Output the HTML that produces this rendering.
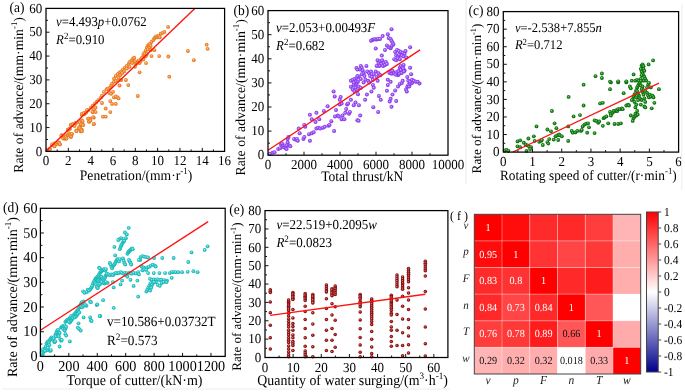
<!DOCTYPE html>
<html><head><meta charset="utf-8"><style>
html,body{margin:0;padding:0;background:#fff;width:685px;height:392px;overflow:hidden}
svg{display:block;font-family:"Liberation Serif", serif;fill:#000;text-rendering:geometricPrecision;will-change:transform}

</style></head><body>
<svg width="685" height="392" viewBox="0 0 685 392">
<g id="scatter">
<defs><radialGradient id="go" cx="0.5" cy="0.5" r="0.5" fx="0.4" fy="0.38"><stop offset="0" stop-color="#fbd3a8"/><stop offset="0.55" stop-color="#f08c38"/><stop offset="1" stop-color="#e07015"/></radialGradient></defs>
<defs><radialGradient id="gp" cx="0.5" cy="0.5" r="0.5" fx="0.4" fy="0.38"><stop offset="0" stop-color="#d9b8ff"/><stop offset="0.55" stop-color="#9a50f5"/><stop offset="1" stop-color="#8030e8"/></radialGradient></defs>
<defs><radialGradient id="gg" cx="0.5" cy="0.5" r="0.5" fx="0.4" fy="0.38"><stop offset="0" stop-color="#90d090"/><stop offset="0.55" stop-color="#158515"/><stop offset="1" stop-color="#066206"/></radialGradient></defs>
<defs><radialGradient id="gc" cx="0.5" cy="0.5" r="0.5" fx="0.4" fy="0.38"><stop offset="0" stop-color="#b8f0f0"/><stop offset="0.55" stop-color="#2cc8c8"/><stop offset="1" stop-color="#14b0b0"/></radialGradient></defs>
<defs><radialGradient id="gm" cx="0.5" cy="0.5" r="0.5" fx="0.4" fy="0.38"><stop offset="0" stop-color="#d89090"/><stop offset="0.55" stop-color="#9a1414"/><stop offset="1" stop-color="#7a0505"/></radialGradient></defs>
<g fill="url(#go)">
<circle cx="47.8" cy="149.8" r="1.9"/>
<circle cx="49.7" cy="148.9" r="1.9"/>
<circle cx="52.4" cy="145.2" r="1.9"/>
<circle cx="54.3" cy="143.4" r="1.9"/>
<circle cx="56.1" cy="144.3" r="1.9"/>
<circle cx="58.9" cy="142.4" r="1.9"/>
<circle cx="59.8" cy="144.3" r="1.9"/>
<circle cx="61.6" cy="135.1" r="1.9"/>
<circle cx="63.4" cy="137.9" r="1.9"/>
<circle cx="64.4" cy="136.0" r="1.9"/>
<circle cx="65.3" cy="138.8" r="1.9"/>
<circle cx="66.2" cy="135.1" r="1.9"/>
<circle cx="68.0" cy="135.1" r="1.9"/>
<circle cx="69.0" cy="133.3" r="1.9"/>
<circle cx="69.9" cy="135.1" r="1.9"/>
<circle cx="70.8" cy="136.9" r="1.9"/>
<circle cx="71.7" cy="134.2" r="1.9"/>
<circle cx="68.0" cy="129.6" r="1.9"/>
<circle cx="69.9" cy="128.7" r="1.9"/>
<circle cx="70.8" cy="125.0" r="1.9"/>
<circle cx="72.6" cy="124.1" r="1.9"/>
<circle cx="74.5" cy="125.0" r="1.9"/>
<circle cx="75.4" cy="123.2" r="1.9"/>
<circle cx="76.3" cy="130.5" r="1.9"/>
<circle cx="79.1" cy="128.7" r="1.9"/>
<circle cx="80.0" cy="126.8" r="1.9"/>
<circle cx="80.9" cy="131.4" r="1.9"/>
<circle cx="81.8" cy="129.6" r="1.9"/>
<circle cx="82.7" cy="124.1" r="1.9"/>
<circle cx="80.0" cy="122.2" r="1.9"/>
<circle cx="81.8" cy="120.4" r="1.9"/>
<circle cx="81.8" cy="114.9" r="1.9"/>
<circle cx="83.7" cy="113.1" r="1.9"/>
<circle cx="84.6" cy="114.0" r="1.9"/>
<circle cx="86.4" cy="112.1" r="1.9"/>
<circle cx="88.2" cy="110.3" r="1.9"/>
<circle cx="88.2" cy="118.6" r="1.9"/>
<circle cx="89.2" cy="121.3" r="1.9"/>
<circle cx="90.1" cy="118.6" r="1.9"/>
<circle cx="93.8" cy="117.7" r="1.9"/>
<circle cx="93.8" cy="124.1" r="1.9"/>
<circle cx="91.0" cy="107.6" r="1.9"/>
<circle cx="92.8" cy="105.7" r="1.9"/>
<circle cx="93.8" cy="109.4" r="1.9"/>
<circle cx="94.7" cy="103.9" r="1.9"/>
<circle cx="95.6" cy="107.6" r="1.9"/>
<circle cx="96.5" cy="102.0" r="1.9"/>
<circle cx="98.3" cy="100.2" r="1.9"/>
<circle cx="92.8" cy="112.1" r="1.9"/>
<circle cx="95.6" cy="112.1" r="1.9"/>
<circle cx="101.1" cy="97.4" r="1.9"/>
<circle cx="102.0" cy="95.6" r="1.9"/>
<circle cx="103.9" cy="91.9" r="1.9"/>
<circle cx="102.0" cy="103.0" r="1.9"/>
<circle cx="105.7" cy="108.5" r="1.9"/>
<circle cx="102.9" cy="116.7" r="1.9"/>
<circle cx="105.7" cy="116.7" r="1.9"/>
<circle cx="110.3" cy="112.1" r="1.9"/>
<circle cx="106.6" cy="89.2" r="1.9"/>
<circle cx="108.4" cy="88.3" r="1.9"/>
<circle cx="110.3" cy="87.3" r="1.9"/>
<circle cx="111.2" cy="85.5" r="1.9"/>
<circle cx="112.1" cy="83.7" r="1.9"/>
<circle cx="114.0" cy="81.8" r="1.9"/>
<circle cx="115.8" cy="80.9" r="1.9"/>
<circle cx="118.6" cy="80.0" r="1.9"/>
<circle cx="121.3" cy="80.0" r="1.9"/>
<circle cx="109.4" cy="92.9" r="1.9"/>
<circle cx="111.2" cy="93.8" r="1.9"/>
<circle cx="113.0" cy="91.9" r="1.9"/>
<circle cx="114.0" cy="97.4" r="1.9"/>
<circle cx="115.8" cy="96.5" r="1.9"/>
<circle cx="117.6" cy="97.4" r="1.9"/>
<circle cx="118.6" cy="98.4" r="1.9"/>
<circle cx="110.3" cy="101.1" r="1.9"/>
<circle cx="112.1" cy="103.9" r="1.9"/>
<circle cx="115.8" cy="103.9" r="1.9"/>
<circle cx="119.5" cy="85.5" r="1.9"/>
<circle cx="125.9" cy="80.0" r="1.9"/>
<circle cx="128.3" cy="85.1" r="1.9"/>
<circle cx="135.0" cy="61.3" r="1.9"/>
<circle cx="135.9" cy="64.0" r="1.9"/>
<circle cx="136.8" cy="63.1" r="1.9"/>
<circle cx="135.0" cy="66.8" r="1.9"/>
<circle cx="137.8" cy="62.2" r="1.9"/>
<circle cx="138.7" cy="60.3" r="1.9"/>
<circle cx="139.6" cy="63.1" r="1.9"/>
<circle cx="140.5" cy="61.3" r="1.9"/>
<circle cx="141.4" cy="58.5" r="1.9"/>
<circle cx="142.3" cy="57.6" r="1.9"/>
<circle cx="143.3" cy="54.8" r="1.9"/>
<circle cx="144.2" cy="53.0" r="1.9"/>
<circle cx="145.1" cy="53.9" r="1.9"/>
<circle cx="143.3" cy="59.4" r="1.9"/>
<circle cx="145.1" cy="56.7" r="1.9"/>
<circle cx="146.0" cy="55.8" r="1.9"/>
<circle cx="146.9" cy="53.9" r="1.9"/>
<circle cx="146.0" cy="50.2" r="1.9"/>
<circle cx="146.9" cy="47.5" r="1.9"/>
<circle cx="147.9" cy="45.7" r="1.9"/>
<circle cx="148.8" cy="44.7" r="1.9"/>
<circle cx="149.7" cy="43.8" r="1.9"/>
<circle cx="147.9" cy="49.3" r="1.9"/>
<circle cx="149.7" cy="47.5" r="1.9"/>
<circle cx="150.6" cy="45.7" r="1.9"/>
<circle cx="151.5" cy="42.0" r="1.9"/>
<circle cx="150.6" cy="50.2" r="1.9"/>
<circle cx="153.4" cy="40.1" r="1.9"/>
<circle cx="154.3" cy="38.3" r="1.9"/>
<circle cx="155.2" cy="37.4" r="1.9"/>
<circle cx="156.1" cy="36.5" r="1.9"/>
<circle cx="157.0" cy="37.4" r="1.9"/>
<circle cx="158.0" cy="36.5" r="1.9"/>
<circle cx="158.9" cy="35.6" r="1.9"/>
<circle cx="159.8" cy="37.4" r="1.9"/>
<circle cx="160.7" cy="33.7" r="1.9"/>
<circle cx="162.6" cy="32.8" r="1.9"/>
<circle cx="164.4" cy="31.9" r="1.9"/>
<circle cx="168.1" cy="26.9" r="1.9"/>
<circle cx="139.6" cy="72.3" r="1.9"/>
<circle cx="146.0" cy="63.1" r="1.9"/>
<circle cx="151.5" cy="56.1" r="1.9"/>
<circle cx="154.3" cy="50.2" r="1.9"/>
<circle cx="159.2" cy="56.1" r="1.9"/>
<circle cx="168.4" cy="56.5" r="1.9"/>
<circle cx="169.3" cy="76.7" r="1.9"/>
<circle cx="187.9" cy="51.0" r="1.9"/>
<circle cx="193.8" cy="60.2" r="1.9"/>
<circle cx="206.6" cy="44.7" r="1.9"/>
<circle cx="207.6" cy="48.8" r="1.9"/>
<circle cx="137.8" cy="96.0" r="1.9"/>
<circle cx="114.0" cy="78.7" r="1.9"/>
<circle cx="115.8" cy="76.0" r="1.9"/>
<circle cx="117.6" cy="74.1" r="1.9"/>
<circle cx="119.5" cy="72.3" r="1.9"/>
<circle cx="121.3" cy="71.4" r="1.9"/>
<circle cx="123.1" cy="69.5" r="1.9"/>
<circle cx="125.0" cy="67.7" r="1.9"/>
<circle cx="126.8" cy="65.9" r="1.9"/>
<circle cx="128.7" cy="64.0" r="1.9"/>
<circle cx="129.6" cy="62.2" r="1.9"/>
<circle cx="131.4" cy="60.3" r="1.9"/>
<circle cx="133.2" cy="58.5" r="1.9"/>
<circle cx="134.2" cy="57.6" r="1.9"/>
<circle cx="135.1" cy="61.3" r="1.9"/>
<circle cx="132.3" cy="63.1" r="1.9"/>
<circle cx="129.6" cy="66.8" r="1.9"/>
<circle cx="126.8" cy="68.6" r="1.9"/>
<circle cx="124.1" cy="71.4" r="1.9"/>
<circle cx="120.4" cy="75.0" r="1.9"/>
<circle cx="118.6" cy="77.8" r="1.9"/>
<circle cx="122.2" cy="73.2" r="1.9"/>
<circle cx="48.0" cy="149.7" r="1.9"/>
<circle cx="50.0" cy="149.1" r="1.9"/>
<circle cx="52.0" cy="144.4" r="1.9"/>
<circle cx="54.0" cy="145.8" r="1.9"/>
<circle cx="54.6" cy="146.4" r="1.9"/>
<circle cx="57.9" cy="142.4" r="1.9"/>
<circle cx="59.3" cy="143.1" r="1.9"/>
<circle cx="59.9" cy="144.4" r="1.9"/>
<circle cx="61.3" cy="135.8" r="1.9"/>
<circle cx="63.2" cy="138.5" r="1.9"/>
<circle cx="64.6" cy="137.8" r="1.9"/>
<circle cx="65.9" cy="137.1" r="1.9"/>
<circle cx="66.6" cy="138.5" r="1.9"/>
<circle cx="67.9" cy="129.8" r="1.9"/>
<circle cx="69.2" cy="129.2" r="1.9"/>
<circle cx="69.9" cy="134.5" r="1.9"/>
<circle cx="70.5" cy="135.8" r="1.9"/>
<circle cx="71.2" cy="136.5" r="1.9"/>
<circle cx="71.9" cy="133.8" r="1.9"/>
<circle cx="71.2" cy="125.2" r="1.9"/>
<circle cx="72.5" cy="124.5" r="1.9"/>
<circle cx="74.5" cy="125.9" r="1.9"/>
<circle cx="75.8" cy="123.2" r="1.9"/>
<circle cx="76.5" cy="131.2" r="1.9"/>
<circle cx="79.2" cy="127.2" r="1.9"/>
<circle cx="79.8" cy="128.5" r="1.9"/>
<circle cx="81.2" cy="129.8" r="1.9"/>
<circle cx="81.8" cy="131.2" r="1.9"/>
<circle cx="79.8" cy="122.6" r="1.9"/>
<circle cx="81.2" cy="124.5" r="1.9"/>
<circle cx="82.5" cy="121.2" r="1.9"/>
<circle cx="83.1" cy="125.2" r="1.9"/>
<circle cx="81.8" cy="113.9" r="1.9"/>
<circle cx="83.8" cy="113.3" r="1.9"/>
<circle cx="85.8" cy="112.6" r="1.9"/>
<circle cx="87.1" cy="109.9" r="1.9"/>
<circle cx="88.4" cy="118.6" r="1.9"/>
<circle cx="89.1" cy="121.9" r="1.9"/>
<circle cx="90.4" cy="120.6" r="1.9"/>
<circle cx="92.4" cy="111.9" r="1.9"/>
<circle cx="93.1" cy="117.2" r="1.9"/>
<circle cx="93.8" cy="123.9" r="1.9"/>
</g>
<g fill="url(#gg)">
<circle cx="504.8" cy="150.5" r="1.9"/>
<circle cx="506.6" cy="149.9" r="1.9"/>
<circle cx="508.4" cy="150.8" r="1.9"/>
<circle cx="517.5" cy="141.4" r="1.9"/>
<circle cx="520.2" cy="140.3" r="1.9"/>
<circle cx="517.5" cy="146.3" r="1.9"/>
<circle cx="520.2" cy="147.2" r="1.9"/>
<circle cx="523.8" cy="142.7" r="1.9"/>
<circle cx="525.6" cy="144.5" r="1.9"/>
<circle cx="527.5" cy="145.4" r="1.9"/>
<circle cx="528.4" cy="138.5" r="1.9"/>
<circle cx="529.3" cy="146.8" r="1.9"/>
<circle cx="531.1" cy="147.2" r="1.9"/>
<circle cx="526.5" cy="150.8" r="1.9"/>
<circle cx="530.2" cy="149.0" r="1.9"/>
<circle cx="533.8" cy="136.3" r="1.9"/>
<circle cx="534.7" cy="140.9" r="1.9"/>
<circle cx="536.5" cy="126.4" r="1.9"/>
<circle cx="539.2" cy="141.8" r="1.9"/>
<circle cx="541.0" cy="140.9" r="1.9"/>
<circle cx="541.9" cy="140.0" r="1.9"/>
<circle cx="542.8" cy="145.0" r="1.9"/>
<circle cx="547.4" cy="129.5" r="1.9"/>
<circle cx="547.4" cy="142.1" r="1.9"/>
<circle cx="548.3" cy="143.6" r="1.9"/>
<circle cx="549.2" cy="139.1" r="1.9"/>
<circle cx="551.0" cy="131.3" r="1.9"/>
<circle cx="551.9" cy="111.0" r="1.9"/>
<circle cx="553.7" cy="139.6" r="1.9"/>
<circle cx="554.6" cy="123.3" r="1.9"/>
<circle cx="555.5" cy="136.3" r="1.9"/>
<circle cx="556.4" cy="128.2" r="1.9"/>
<circle cx="557.3" cy="135.4" r="1.9"/>
<circle cx="558.2" cy="140.0" r="1.9"/>
<circle cx="559.1" cy="134.5" r="1.9"/>
<circle cx="560.1" cy="135.4" r="1.9"/>
<circle cx="561.9" cy="136.3" r="1.9"/>
<circle cx="568.2" cy="140.9" r="1.9"/>
<circle cx="568.6" cy="96.9" r="1.9"/>
<circle cx="568.2" cy="126.4" r="1.9"/>
<circle cx="571.8" cy="130.9" r="1.9"/>
<circle cx="572.7" cy="132.7" r="1.9"/>
<circle cx="573.6" cy="116.4" r="1.9"/>
<circle cx="575.4" cy="132.4" r="1.9"/>
<circle cx="577.3" cy="130.9" r="1.9"/>
<circle cx="580.0" cy="115.1" r="1.9"/>
<circle cx="580.9" cy="130.9" r="1.9"/>
<circle cx="581.8" cy="130.0" r="1.9"/>
<circle cx="583.6" cy="105.5" r="1.9"/>
<circle cx="583.6" cy="84.7" r="1.9"/>
<circle cx="582.7" cy="126.4" r="1.9"/>
<circle cx="584.5" cy="124.6" r="1.9"/>
<circle cx="586.3" cy="123.7" r="1.9"/>
<circle cx="587.2" cy="132.7" r="1.9"/>
<circle cx="588.1" cy="123.3" r="1.9"/>
<circle cx="589.0" cy="127.3" r="1.9"/>
<circle cx="594.6" cy="133.1" r="1.9"/>
<circle cx="594.6" cy="120.4" r="1.9"/>
<circle cx="596.4" cy="120.9" r="1.9"/>
<circle cx="598.2" cy="122.8" r="1.9"/>
<circle cx="599.2" cy="121.5" r="1.9"/>
<circle cx="600.1" cy="103.4" r="1.9"/>
<circle cx="602.8" cy="125.8" r="1.9"/>
<circle cx="602.8" cy="102.8" r="1.9"/>
<circle cx="603.7" cy="118.2" r="1.9"/>
<circle cx="604.6" cy="117.3" r="1.9"/>
<circle cx="606.4" cy="116.4" r="1.9"/>
<circle cx="608.2" cy="123.3" r="1.9"/>
<circle cx="610.0" cy="111.9" r="1.9"/>
<circle cx="610.9" cy="113.7" r="1.9"/>
<circle cx="610.9" cy="115.5" r="1.9"/>
<circle cx="612.7" cy="112.8" r="1.9"/>
<circle cx="613.6" cy="111.0" r="1.9"/>
<circle cx="614.5" cy="124.0" r="1.9"/>
<circle cx="615.5" cy="111.0" r="1.9"/>
<circle cx="616.4" cy="110.1" r="1.9"/>
<circle cx="617.3" cy="111.0" r="1.9"/>
<circle cx="618.2" cy="109.2" r="1.9"/>
<circle cx="618.2" cy="124.0" r="1.9"/>
<circle cx="620.0" cy="109.2" r="1.9"/>
<circle cx="620.9" cy="123.3" r="1.9"/>
<circle cx="621.8" cy="108.3" r="1.9"/>
<circle cx="622.7" cy="109.2" r="1.9"/>
<circle cx="623.6" cy="93.2" r="1.9"/>
<circle cx="626.3" cy="105.5" r="1.9"/>
<circle cx="628.1" cy="104.6" r="1.9"/>
<circle cx="629.0" cy="105.5" r="1.9"/>
<circle cx="610.0" cy="89.2" r="1.9"/>
<circle cx="610.9" cy="82.4" r="1.9"/>
<circle cx="618.2" cy="82.4" r="1.9"/>
<circle cx="626.3" cy="82.4" r="1.9"/>
<circle cx="629.9" cy="86.5" r="1.9"/>
<circle cx="630.8" cy="88.3" r="1.9"/>
<circle cx="630.8" cy="115.5" r="1.9"/>
<circle cx="632.7" cy="120.9" r="1.9"/>
<circle cx="633.6" cy="118.2" r="1.9"/>
<circle cx="634.5" cy="116.4" r="1.9"/>
<circle cx="635.4" cy="113.7" r="1.9"/>
<circle cx="636.3" cy="115.5" r="1.9"/>
<circle cx="637.2" cy="111.0" r="1.9"/>
<circle cx="637.7" cy="114.6" r="1.9"/>
<circle cx="635.4" cy="107.4" r="1.9"/>
<circle cx="636.3" cy="104.6" r="1.9"/>
<circle cx="634.5" cy="101.9" r="1.9"/>
<circle cx="632.7" cy="99.2" r="1.9"/>
<circle cx="631.8" cy="100.1" r="1.9"/>
<circle cx="633.6" cy="96.5" r="1.9"/>
<circle cx="634.5" cy="94.7" r="1.9"/>
<circle cx="635.4" cy="92.9" r="1.9"/>
<circle cx="636.3" cy="90.2" r="1.9"/>
<circle cx="637.2" cy="87.4" r="1.9"/>
<circle cx="638.1" cy="85.6" r="1.9"/>
<circle cx="639.0" cy="83.8" r="1.9"/>
<circle cx="639.9" cy="82.9" r="1.9"/>
<circle cx="640.8" cy="85.6" r="1.9"/>
<circle cx="641.7" cy="89.2" r="1.9"/>
<circle cx="642.6" cy="92.0" r="1.9"/>
<circle cx="643.5" cy="94.7" r="1.9"/>
<circle cx="644.4" cy="98.3" r="1.9"/>
<circle cx="645.3" cy="101.9" r="1.9"/>
<circle cx="644.4" cy="106.5" r="1.9"/>
<circle cx="645.3" cy="107.4" r="1.9"/>
<circle cx="640.8" cy="104.6" r="1.9"/>
<circle cx="641.7" cy="100.1" r="1.9"/>
<circle cx="639.9" cy="98.3" r="1.9"/>
<circle cx="639.0" cy="95.6" r="1.9"/>
<circle cx="638.1" cy="93.8" r="1.9"/>
<circle cx="637.2" cy="91.1" r="1.9"/>
<circle cx="636.3" cy="97.4" r="1.9"/>
<circle cx="638.1" cy="100.1" r="1.9"/>
<circle cx="647.1" cy="92.9" r="1.9"/>
<circle cx="648.1" cy="95.6" r="1.9"/>
<circle cx="649.0" cy="97.4" r="1.9"/>
<circle cx="649.9" cy="94.7" r="1.9"/>
<circle cx="650.8" cy="96.5" r="1.9"/>
<circle cx="652.6" cy="95.6" r="1.9"/>
<circle cx="653.5" cy="97.4" r="1.9"/>
<circle cx="651.7" cy="108.3" r="1.9"/>
<circle cx="654.4" cy="102.8" r="1.9"/>
<circle cx="658.9" cy="89.2" r="1.9"/>
<circle cx="648.1" cy="84.7" r="1.9"/>
<circle cx="649.0" cy="82.9" r="1.9"/>
<circle cx="650.8" cy="87.4" r="1.9"/>
<circle cx="647.1" cy="87.4" r="1.9"/>
<circle cx="642.6" cy="86.5" r="1.9"/>
<circle cx="643.5" cy="90.2" r="1.9"/>
<circle cx="645.3" cy="91.1" r="1.9"/>
<circle cx="595.5" cy="76.2" r="1.9"/>
<circle cx="601.9" cy="73.5" r="1.9"/>
<circle cx="601.9" cy="78.0" r="1.9"/>
<circle cx="610.0" cy="81.6" r="1.9"/>
<circle cx="618.2" cy="81.3" r="1.9"/>
<circle cx="626.3" cy="81.3" r="1.9"/>
<circle cx="631.8" cy="80.7" r="1.9"/>
<circle cx="633.6" cy="74.4" r="1.9"/>
<circle cx="635.4" cy="80.7" r="1.9"/>
<circle cx="637.2" cy="79.8" r="1.9"/>
<circle cx="639.0" cy="80.7" r="1.9"/>
<circle cx="640.8" cy="78.9" r="1.9"/>
<circle cx="641.7" cy="65.3" r="1.9"/>
<circle cx="642.6" cy="67.1" r="1.9"/>
<circle cx="643.5" cy="69.0" r="1.9"/>
<circle cx="640.8" cy="69.0" r="1.9"/>
<circle cx="641.7" cy="71.7" r="1.9"/>
<circle cx="642.6" cy="73.5" r="1.9"/>
<circle cx="643.5" cy="75.3" r="1.9"/>
<circle cx="644.4" cy="77.1" r="1.9"/>
<circle cx="645.3" cy="78.9" r="1.9"/>
<circle cx="646.2" cy="80.7" r="1.9"/>
<circle cx="644.4" cy="70.8" r="1.9"/>
<circle cx="642.6" cy="64.4" r="1.9"/>
<circle cx="643.5" cy="66.2" r="1.9"/>
<circle cx="648.6" cy="64.4" r="1.9"/>
<circle cx="653.1" cy="60.4" r="1.9"/>
<circle cx="641.7" cy="75.3" r="1.9"/>
<circle cx="643.5" cy="80.7" r="1.9"/>
<circle cx="640.8" cy="80.7" r="1.9"/>
</g>
<g fill="url(#gc)">
<circle cx="100.3" cy="316.1" r="1.9"/>
<circle cx="113.7" cy="307.8" r="1.9"/>
<circle cx="103.1" cy="300.2" r="1.9"/>
<circle cx="128.7" cy="227.8" r="1.9"/>
<circle cx="124.9" cy="232.5" r="1.9"/>
<circle cx="126.8" cy="234.4" r="1.9"/>
<circle cx="125.9" cy="238.2" r="1.9"/>
<circle cx="124.0" cy="239.1" r="1.9"/>
<circle cx="121.2" cy="238.2" r="1.9"/>
<circle cx="119.3" cy="239.1" r="1.9"/>
<circle cx="140.6" cy="257.1" r="1.9"/>
<circle cx="142.4" cy="256.1" r="1.9"/>
<circle cx="144.3" cy="256.7" r="1.9"/>
<circle cx="146.2" cy="257.1" r="1.9"/>
<circle cx="148.1" cy="257.5" r="1.9"/>
<circle cx="140.2" cy="259.9" r="1.9"/>
<circle cx="154.1" cy="258.0" r="1.9"/>
<circle cx="162.3" cy="258.0" r="1.9"/>
<circle cx="173.6" cy="258.0" r="1.9"/>
<circle cx="191.5" cy="252.4" r="1.9"/>
<circle cx="204.7" cy="249.9" r="1.9"/>
<circle cx="207.6" cy="246.3" r="1.9"/>
<circle cx="188.3" cy="262.0" r="1.9"/>
<circle cx="141.5" cy="266.5" r="1.9"/>
<circle cx="143.4" cy="267.5" r="1.9"/>
<circle cx="145.3" cy="268.4" r="1.9"/>
<circle cx="147.2" cy="267.5" r="1.9"/>
<circle cx="149.0" cy="266.9" r="1.9"/>
<circle cx="150.9" cy="265.6" r="1.9"/>
<circle cx="152.8" cy="264.6" r="1.9"/>
<circle cx="154.7" cy="265.6" r="1.9"/>
<circle cx="155.7" cy="266.5" r="1.9"/>
<circle cx="142.4" cy="270.3" r="1.9"/>
<circle cx="144.3" cy="269.4" r="1.9"/>
<circle cx="146.2" cy="269.9" r="1.9"/>
<circle cx="148.1" cy="273.1" r="1.9"/>
<circle cx="153.8" cy="273.1" r="1.9"/>
<circle cx="159.4" cy="273.1" r="1.9"/>
<circle cx="165.1" cy="273.1" r="1.9"/>
<circle cx="169.8" cy="273.1" r="1.9"/>
<circle cx="171.7" cy="272.2" r="1.9"/>
<circle cx="173.6" cy="272.2" r="1.9"/>
<circle cx="175.5" cy="272.2" r="1.9"/>
<circle cx="178.3" cy="272.2" r="1.9"/>
<circle cx="182.1" cy="272.2" r="1.9"/>
<circle cx="187.7" cy="271.8" r="1.9"/>
<circle cx="193.4" cy="271.2" r="1.9"/>
<circle cx="197.6" cy="272.2" r="1.9"/>
<circle cx="171.7" cy="277.8" r="1.9"/>
<circle cx="150.0" cy="278.8" r="1.9"/>
<circle cx="151.9" cy="279.7" r="1.9"/>
<circle cx="153.8" cy="279.4" r="1.9"/>
<circle cx="155.7" cy="279.7" r="1.9"/>
<circle cx="157.5" cy="279.4" r="1.9"/>
<circle cx="159.4" cy="280.1" r="1.9"/>
<circle cx="161.3" cy="279.7" r="1.9"/>
<circle cx="164.1" cy="280.1" r="1.9"/>
<circle cx="167.0" cy="280.7" r="1.9"/>
<circle cx="146.4" cy="291.6" r="1.9"/>
<circle cx="147.3" cy="289.7" r="1.9"/>
<circle cx="148.3" cy="287.7" r="1.9"/>
<circle cx="149.3" cy="285.8" r="1.9"/>
<circle cx="150.2" cy="283.9" r="1.9"/>
<circle cx="151.2" cy="283.0" r="1.9"/>
<circle cx="150.2" cy="290.6" r="1.9"/>
<circle cx="152.1" cy="284.9" r="1.9"/>
<circle cx="153.1" cy="283.0" r="1.9"/>
<circle cx="157.9" cy="284.9" r="1.9"/>
<circle cx="159.8" cy="285.8" r="1.9"/>
<circle cx="161.7" cy="283.0" r="1.9"/>
<circle cx="163.6" cy="282.0" r="1.9"/>
<circle cx="166.5" cy="282.0" r="1.9"/>
<circle cx="156.0" cy="282.0" r="1.9"/>
<circle cx="154.0" cy="282.0" r="1.9"/>
<circle cx="151.2" cy="287.7" r="1.9"/>
<circle cx="42.2" cy="355.3" r="1.9"/>
<circle cx="42.9" cy="353.8" r="1.9"/>
<circle cx="41.5" cy="353.1" r="1.9"/>
<circle cx="43.6" cy="351.6" r="1.9"/>
<circle cx="44.4" cy="350.2" r="1.9"/>
<circle cx="42.9" cy="349.4" r="1.9"/>
<circle cx="45.1" cy="348.0" r="1.9"/>
<circle cx="45.8" cy="346.5" r="1.9"/>
<circle cx="46.5" cy="348.7" r="1.9"/>
<circle cx="47.3" cy="350.2" r="1.9"/>
<circle cx="48.0" cy="348.0" r="1.9"/>
<circle cx="45.1" cy="350.9" r="1.9"/>
<circle cx="46.5" cy="343.6" r="1.9"/>
<circle cx="47.3" cy="342.2" r="1.9"/>
<circle cx="48.0" cy="341.4" r="1.9"/>
<circle cx="48.7" cy="342.9" r="1.9"/>
<circle cx="49.5" cy="340.7" r="1.9"/>
<circle cx="50.2" cy="339.3" r="1.9"/>
<circle cx="50.9" cy="338.1" r="1.9"/>
<circle cx="51.6" cy="337.5" r="1.9"/>
<circle cx="52.4" cy="339.0" r="1.9"/>
<circle cx="53.1" cy="340.0" r="1.9"/>
<circle cx="53.8" cy="338.5" r="1.9"/>
<circle cx="54.5" cy="342.2" r="1.9"/>
<circle cx="55.3" cy="341.4" r="1.9"/>
<circle cx="49.5" cy="345.1" r="1.9"/>
<circle cx="50.2" cy="350.9" r="1.9"/>
<circle cx="50.9" cy="350.2" r="1.9"/>
<circle cx="55.3" cy="334.9" r="1.9"/>
<circle cx="56.0" cy="333.4" r="1.9"/>
<circle cx="56.7" cy="332.0" r="1.9"/>
<circle cx="57.4" cy="330.5" r="1.9"/>
<circle cx="58.2" cy="329.8" r="1.9"/>
<circle cx="56.0" cy="336.4" r="1.9"/>
<circle cx="58.2" cy="334.9" r="1.9"/>
<circle cx="58.9" cy="333.4" r="1.9"/>
<circle cx="59.6" cy="332.7" r="1.9"/>
<circle cx="58.9" cy="336.4" r="1.9"/>
<circle cx="60.4" cy="339.3" r="1.9"/>
<circle cx="61.1" cy="340.7" r="1.9"/>
<circle cx="61.8" cy="340.0" r="1.9"/>
<circle cx="59.6" cy="346.5" r="1.9"/>
<circle cx="61.1" cy="327.6" r="1.9"/>
<circle cx="61.8" cy="326.9" r="1.9"/>
<circle cx="62.5" cy="326.2" r="1.9"/>
<circle cx="63.3" cy="327.6" r="1.9"/>
<circle cx="64.0" cy="326.2" r="1.9"/>
<circle cx="64.7" cy="325.4" r="1.9"/>
<circle cx="63.3" cy="329.1" r="1.9"/>
<circle cx="64.7" cy="330.5" r="1.9"/>
<circle cx="65.4" cy="328.4" r="1.9"/>
<circle cx="66.2" cy="326.9" r="1.9"/>
<circle cx="65.4" cy="321.8" r="1.9"/>
<circle cx="66.2" cy="321.1" r="1.9"/>
<circle cx="66.9" cy="320.4" r="1.9"/>
<circle cx="67.6" cy="319.6" r="1.9"/>
<circle cx="68.4" cy="320.4" r="1.9"/>
<circle cx="69.1" cy="318.9" r="1.9"/>
<circle cx="69.8" cy="318.2" r="1.9"/>
<circle cx="70.5" cy="317.4" r="1.9"/>
<circle cx="71.3" cy="316.0" r="1.9"/>
<circle cx="70.5" cy="321.1" r="1.9"/>
<circle cx="69.8" cy="322.5" r="1.9"/>
<circle cx="69.1" cy="321.8" r="1.9"/>
<circle cx="71.3" cy="320.4" r="1.9"/>
<circle cx="72.0" cy="318.9" r="1.9"/>
<circle cx="72.7" cy="318.2" r="1.9"/>
<circle cx="73.4" cy="316.0" r="1.9"/>
<circle cx="74.2" cy="314.5" r="1.9"/>
<circle cx="74.9" cy="313.8" r="1.9"/>
<circle cx="75.6" cy="313.1" r="1.9"/>
<circle cx="76.4" cy="311.6" r="1.9"/>
<circle cx="77.1" cy="310.9" r="1.9"/>
<circle cx="77.8" cy="310.2" r="1.9"/>
<circle cx="78.5" cy="308.7" r="1.9"/>
<circle cx="79.3" cy="307.3" r="1.9"/>
<circle cx="80.0" cy="305.8" r="1.9"/>
<circle cx="80.7" cy="304.4" r="1.9"/>
<circle cx="81.4" cy="302.9" r="1.9"/>
<circle cx="82.2" cy="302.2" r="1.9"/>
<circle cx="83.6" cy="301.5" r="1.9"/>
<circle cx="74.9" cy="317.4" r="1.9"/>
<circle cx="76.4" cy="316.0" r="1.9"/>
<circle cx="77.1" cy="314.5" r="1.9"/>
<circle cx="77.8" cy="313.8" r="1.9"/>
<circle cx="79.3" cy="312.4" r="1.9"/>
<circle cx="65.4" cy="334.2" r="1.9"/>
<circle cx="66.2" cy="335.6" r="1.9"/>
<circle cx="69.8" cy="341.4" r="1.9"/>
<circle cx="78.5" cy="323.3" r="1.9"/>
<circle cx="77.8" cy="327.6" r="1.9"/>
<circle cx="79.3" cy="329.1" r="1.9"/>
<circle cx="80.7" cy="330.5" r="1.9"/>
<circle cx="83.6" cy="317.4" r="1.9"/>
<circle cx="86.5" cy="305.8" r="1.9"/>
<circle cx="90.2" cy="317.4" r="1.9"/>
<circle cx="90.9" cy="320.4" r="1.9"/>
<circle cx="91.6" cy="321.1" r="1.9"/>
<circle cx="90.2" cy="301.5" r="1.9"/>
<circle cx="90.9" cy="302.2" r="1.9"/>
<circle cx="96.7" cy="305.1" r="1.9"/>
<circle cx="97.4" cy="304.4" r="1.9"/>
<circle cx="99.6" cy="316.0" r="1.9"/>
<circle cx="80.7" cy="306.5" r="1.9"/>
<circle cx="82.2" cy="307.3" r="1.9"/>
<circle cx="83.6" cy="305.8" r="1.9"/>
<circle cx="85.1" cy="304.4" r="1.9"/>
<circle cx="83.1" cy="291.3" r="1.9"/>
<circle cx="84.6" cy="292.8" r="1.9"/>
<circle cx="86.9" cy="292.0" r="1.9"/>
<circle cx="87.7" cy="289.7" r="1.9"/>
<circle cx="89.2" cy="290.5" r="1.9"/>
<circle cx="90.7" cy="289.0" r="1.9"/>
<circle cx="91.5" cy="287.4" r="1.9"/>
<circle cx="92.2" cy="285.9" r="1.9"/>
<circle cx="93.0" cy="283.6" r="1.9"/>
<circle cx="93.8" cy="282.1" r="1.9"/>
<circle cx="94.5" cy="280.6" r="1.9"/>
<circle cx="95.3" cy="279.0" r="1.9"/>
<circle cx="96.1" cy="278.3" r="1.9"/>
<circle cx="96.8" cy="277.5" r="1.9"/>
<circle cx="97.6" cy="276.7" r="1.9"/>
<circle cx="98.4" cy="276.0" r="1.9"/>
<circle cx="99.1" cy="274.4" r="1.9"/>
<circle cx="99.9" cy="272.9" r="1.9"/>
<circle cx="100.7" cy="272.1" r="1.9"/>
<circle cx="101.4" cy="271.4" r="1.9"/>
<circle cx="102.2" cy="270.6" r="1.9"/>
<circle cx="103.0" cy="269.8" r="1.9"/>
<circle cx="103.7" cy="269.1" r="1.9"/>
<circle cx="104.5" cy="269.8" r="1.9"/>
<circle cx="105.3" cy="270.6" r="1.9"/>
<circle cx="106.0" cy="269.1" r="1.9"/>
<circle cx="95.3" cy="282.9" r="1.9"/>
<circle cx="96.1" cy="284.4" r="1.9"/>
<circle cx="96.8" cy="281.3" r="1.9"/>
<circle cx="97.6" cy="280.6" r="1.9"/>
<circle cx="98.4" cy="281.3" r="1.9"/>
<circle cx="99.1" cy="279.8" r="1.9"/>
<circle cx="99.9" cy="278.3" r="1.9"/>
<circle cx="100.7" cy="277.5" r="1.9"/>
<circle cx="101.4" cy="276.7" r="1.9"/>
<circle cx="102.2" cy="278.3" r="1.9"/>
<circle cx="103.0" cy="279.0" r="1.9"/>
<circle cx="103.7" cy="279.8" r="1.9"/>
<circle cx="104.5" cy="278.3" r="1.9"/>
<circle cx="105.3" cy="276.7" r="1.9"/>
<circle cx="106.0" cy="275.2" r="1.9"/>
<circle cx="106.8" cy="274.4" r="1.9"/>
<circle cx="107.6" cy="282.9" r="1.9"/>
<circle cx="106.0" cy="282.1" r="1.9"/>
<circle cx="104.5" cy="283.6" r="1.9"/>
<circle cx="103.0" cy="282.9" r="1.9"/>
<circle cx="101.4" cy="282.1" r="1.9"/>
<circle cx="99.9" cy="284.4" r="1.9"/>
<circle cx="98.4" cy="285.9" r="1.9"/>
<circle cx="96.8" cy="286.7" r="1.9"/>
<circle cx="97.6" cy="288.2" r="1.9"/>
<circle cx="99.1" cy="267.6" r="1.9"/>
<circle cx="99.9" cy="268.3" r="1.9"/>
<circle cx="106.8" cy="273.7" r="1.9"/>
<circle cx="108.3" cy="274.4" r="1.9"/>
<circle cx="109.8" cy="275.2" r="1.9"/>
<circle cx="111.4" cy="274.4" r="1.9"/>
<circle cx="112.9" cy="275.2" r="1.9"/>
<circle cx="114.4" cy="273.7" r="1.9"/>
<circle cx="116.0" cy="272.9" r="1.9"/>
<circle cx="117.5" cy="273.4" r="1.9"/>
<circle cx="119.0" cy="272.9" r="1.9"/>
<circle cx="120.6" cy="272.1" r="1.9"/>
<circle cx="122.1" cy="272.9" r="1.9"/>
<circle cx="123.6" cy="273.7" r="1.9"/>
<circle cx="125.2" cy="272.9" r="1.9"/>
<circle cx="126.7" cy="273.4" r="1.9"/>
<circle cx="129.0" cy="272.9" r="1.9"/>
<circle cx="131.3" cy="273.7" r="1.9"/>
<circle cx="133.6" cy="272.9" r="1.9"/>
<circle cx="135.9" cy="273.4" r="1.9"/>
<circle cx="138.2" cy="272.1" r="1.9"/>
<circle cx="138.9" cy="274.4" r="1.9"/>
<circle cx="109.8" cy="263.0" r="1.9"/>
<circle cx="110.6" cy="264.5" r="1.9"/>
<circle cx="111.4" cy="266.8" r="1.9"/>
<circle cx="112.1" cy="268.3" r="1.9"/>
<circle cx="112.9" cy="266.0" r="1.9"/>
<circle cx="113.7" cy="265.3" r="1.9"/>
<circle cx="114.4" cy="264.5" r="1.9"/>
<circle cx="115.2" cy="263.0" r="1.9"/>
<circle cx="116.0" cy="261.4" r="1.9"/>
<circle cx="116.7" cy="259.9" r="1.9"/>
<circle cx="117.5" cy="259.1" r="1.9"/>
<circle cx="118.3" cy="259.9" r="1.9"/>
<circle cx="119.0" cy="261.4" r="1.9"/>
<circle cx="119.8" cy="259.1" r="1.9"/>
<circle cx="122.9" cy="258.4" r="1.9"/>
<circle cx="123.6" cy="260.7" r="1.9"/>
<circle cx="124.4" cy="263.0" r="1.9"/>
<circle cx="125.2" cy="264.5" r="1.9"/>
<circle cx="129.0" cy="259.9" r="1.9"/>
<circle cx="129.7" cy="261.4" r="1.9"/>
<circle cx="130.5" cy="263.0" r="1.9"/>
<circle cx="131.3" cy="264.5" r="1.9"/>
<circle cx="115.2" cy="255.3" r="1.9"/>
<circle cx="114.4" cy="246.9" r="1.9"/>
<circle cx="119.8" cy="249.2" r="1.9"/>
<circle cx="120.6" cy="246.9" r="1.9"/>
<circle cx="121.3" cy="245.4" r="1.9"/>
<circle cx="122.1" cy="243.8" r="1.9"/>
<circle cx="122.9" cy="242.3" r="1.9"/>
<circle cx="123.6" cy="241.5" r="1.9"/>
<circle cx="124.4" cy="240.8" r="1.9"/>
<circle cx="118.3" cy="240.0" r="1.9"/>
<circle cx="127.4" cy="253.8" r="1.9"/>
<circle cx="128.2" cy="252.2" r="1.9"/>
<circle cx="129.0" cy="251.5" r="1.9"/>
<circle cx="129.7" cy="250.7" r="1.9"/>
<circle cx="130.5" cy="249.9" r="1.9"/>
<circle cx="131.3" cy="249.2" r="1.9"/>
<circle cx="132.0" cy="248.4" r="1.9"/>
<circle cx="132.8" cy="249.2" r="1.9"/>
<circle cx="138.9" cy="259.9" r="1.9"/>
<circle cx="112.9" cy="282.1" r="1.9"/>
<circle cx="113.7" cy="287.4" r="1.9"/>
<circle cx="120.6" cy="284.4" r="1.9"/>
<circle cx="122.1" cy="280.6" r="1.9"/>
<circle cx="130.5" cy="279.8" r="1.9"/>
<circle cx="133.6" cy="285.9" r="1.9"/>
<circle cx="137.4" cy="280.6" r="1.9"/>
<circle cx="138.2" cy="296.6" r="1.9"/>
<circle cx="125.9" cy="275.2" r="1.9"/>
<circle cx="127.4" cy="276.7" r="1.9"/>
</g>
<g fill="url(#gm)">
<circle cx="270.3" cy="289.7" r="1.75"/>
<circle cx="270.3" cy="291.2" r="1.75"/>
<circle cx="270.3" cy="292.5" r="1.75"/>
<circle cx="270.3" cy="301.9" r="1.75"/>
<circle cx="270.3" cy="312.7" r="1.75"/>
<circle cx="270.3" cy="325.2" r="1.75"/>
<circle cx="270.3" cy="337.8" r="1.75"/>
<circle cx="270.3" cy="349.1" r="1.75"/>
<circle cx="288.6" cy="300.0" r="1.75"/>
<circle cx="288.6" cy="301.4" r="1.75"/>
<circle cx="288.6" cy="302.5" r="1.75"/>
<circle cx="288.6" cy="303.8" r="1.75"/>
<circle cx="288.6" cy="305.1" r="1.75"/>
<circle cx="288.6" cy="306.3" r="1.75"/>
<circle cx="288.6" cy="307.6" r="1.75"/>
<circle cx="288.6" cy="308.9" r="1.75"/>
<circle cx="288.6" cy="310.4" r="1.75"/>
<circle cx="288.6" cy="313.3" r="1.75"/>
<circle cx="288.6" cy="316.1" r="1.75"/>
<circle cx="288.6" cy="318.9" r="1.75"/>
<circle cx="288.6" cy="321.8" r="1.75"/>
<circle cx="288.6" cy="324.6" r="1.75"/>
<circle cx="288.6" cy="327.0" r="1.75"/>
<circle cx="288.6" cy="330.2" r="1.75"/>
<circle cx="288.6" cy="332.7" r="1.75"/>
<circle cx="288.6" cy="335.0" r="1.75"/>
<circle cx="288.6" cy="337.8" r="1.75"/>
<circle cx="288.6" cy="340.3" r="1.75"/>
<circle cx="288.6" cy="342.5" r="1.75"/>
<circle cx="288.6" cy="345.9" r="1.75"/>
<circle cx="288.6" cy="349.1" r="1.75"/>
<circle cx="288.6" cy="352.0" r="1.75"/>
<circle cx="288.6" cy="354.8" r="1.75"/>
<circle cx="288.6" cy="356.7" r="1.75"/>
<circle cx="292.9" cy="292.5" r="1.75"/>
<circle cx="292.9" cy="293.8" r="1.75"/>
<circle cx="292.9" cy="295.3" r="1.75"/>
<circle cx="292.9" cy="296.8" r="1.75"/>
<circle cx="292.9" cy="298.2" r="1.75"/>
<circle cx="292.9" cy="299.5" r="1.75"/>
<circle cx="292.9" cy="309.5" r="1.75"/>
<circle cx="292.9" cy="318.0" r="1.75"/>
<circle cx="292.9" cy="323.6" r="1.75"/>
<circle cx="292.9" cy="326.5" r="1.75"/>
<circle cx="292.9" cy="330.2" r="1.75"/>
<circle cx="292.9" cy="335.0" r="1.75"/>
<circle cx="292.9" cy="337.8" r="1.75"/>
<circle cx="292.9" cy="341.6" r="1.75"/>
<circle cx="292.9" cy="343.5" r="1.75"/>
<circle cx="292.9" cy="345.4" r="1.75"/>
<circle cx="292.9" cy="350.4" r="1.75"/>
<circle cx="305.2" cy="293.4" r="1.75"/>
<circle cx="305.2" cy="294.9" r="1.75"/>
<circle cx="305.2" cy="296.3" r="1.75"/>
<circle cx="305.2" cy="297.6" r="1.75"/>
<circle cx="305.2" cy="299.1" r="1.75"/>
<circle cx="305.2" cy="300.6" r="1.75"/>
<circle cx="305.2" cy="306.3" r="1.75"/>
<circle cx="305.2" cy="311.4" r="1.75"/>
<circle cx="305.2" cy="319.5" r="1.75"/>
<circle cx="305.2" cy="328.4" r="1.75"/>
<circle cx="305.2" cy="337.8" r="1.75"/>
<circle cx="305.2" cy="346.3" r="1.75"/>
<circle cx="305.2" cy="351.0" r="1.75"/>
<circle cx="305.2" cy="352.9" r="1.75"/>
<circle cx="305.2" cy="354.8" r="1.75"/>
<circle cx="305.2" cy="356.7" r="1.75"/>
<circle cx="312.8" cy="294.4" r="1.75"/>
<circle cx="312.8" cy="295.7" r="1.75"/>
<circle cx="312.8" cy="297.2" r="1.75"/>
<circle cx="312.8" cy="298.7" r="1.75"/>
<circle cx="312.8" cy="300.0" r="1.75"/>
<circle cx="312.8" cy="301.4" r="1.75"/>
<circle cx="312.8" cy="302.9" r="1.75"/>
<circle cx="312.8" cy="312.7" r="1.75"/>
<circle cx="312.8" cy="324.0" r="1.75"/>
<circle cx="312.8" cy="335.3" r="1.75"/>
<circle cx="312.8" cy="346.7" r="1.75"/>
<circle cx="312.8" cy="356.7" r="1.75"/>
<circle cx="326.4" cy="284.9" r="1.75"/>
<circle cx="326.4" cy="286.8" r="1.75"/>
<circle cx="326.4" cy="288.7" r="1.75"/>
<circle cx="326.4" cy="290.6" r="1.75"/>
<circle cx="326.4" cy="291.9" r="1.75"/>
<circle cx="326.4" cy="298.7" r="1.75"/>
<circle cx="326.4" cy="308.5" r="1.75"/>
<circle cx="326.4" cy="319.5" r="1.75"/>
<circle cx="326.4" cy="330.2" r="1.75"/>
<circle cx="326.4" cy="340.3" r="1.75"/>
<circle cx="326.4" cy="350.4" r="1.75"/>
<circle cx="332.0" cy="288.7" r="1.75"/>
<circle cx="332.0" cy="290.0" r="1.75"/>
<circle cx="332.0" cy="291.6" r="1.75"/>
<circle cx="332.0" cy="293.1" r="1.75"/>
<circle cx="332.0" cy="294.4" r="1.75"/>
<circle cx="332.0" cy="295.7" r="1.75"/>
<circle cx="332.0" cy="303.8" r="1.75"/>
<circle cx="332.0" cy="315.1" r="1.75"/>
<circle cx="332.0" cy="328.4" r="1.75"/>
<circle cx="332.0" cy="340.3" r="1.75"/>
<circle cx="332.0" cy="351.6" r="1.75"/>
<circle cx="335.2" cy="285.9" r="1.75"/>
<circle cx="335.2" cy="287.4" r="1.75"/>
<circle cx="335.2" cy="288.7" r="1.75"/>
<circle cx="335.2" cy="290.6" r="1.75"/>
<circle cx="335.2" cy="292.5" r="1.75"/>
<circle cx="335.2" cy="294.4" r="1.75"/>
<circle cx="335.2" cy="306.7" r="1.75"/>
<circle cx="335.2" cy="320.2" r="1.75"/>
<circle cx="335.2" cy="334.4" r="1.75"/>
<circle cx="335.2" cy="347.2" r="1.75"/>
<circle cx="360.2" cy="294.4" r="1.75"/>
<circle cx="360.2" cy="295.7" r="1.75"/>
<circle cx="360.2" cy="297.2" r="1.75"/>
<circle cx="360.2" cy="298.7" r="1.75"/>
<circle cx="360.2" cy="301.4" r="1.75"/>
<circle cx="360.2" cy="302.9" r="1.75"/>
<circle cx="360.2" cy="304.8" r="1.75"/>
<circle cx="360.2" cy="306.7" r="1.75"/>
<circle cx="360.2" cy="311.9" r="1.75"/>
<circle cx="360.2" cy="319.9" r="1.75"/>
<circle cx="360.2" cy="328.7" r="1.75"/>
<circle cx="360.2" cy="337.4" r="1.75"/>
<circle cx="360.2" cy="345.0" r="1.75"/>
<circle cx="360.2" cy="352.3" r="1.75"/>
<circle cx="360.2" cy="356.7" r="1.75"/>
<circle cx="371.7" cy="299.1" r="1.75"/>
<circle cx="371.7" cy="300.6" r="1.75"/>
<circle cx="371.7" cy="301.9" r="1.75"/>
<circle cx="371.7" cy="303.8" r="1.75"/>
<circle cx="371.7" cy="305.7" r="1.75"/>
<circle cx="371.7" cy="307.6" r="1.75"/>
<circle cx="371.7" cy="309.5" r="1.75"/>
<circle cx="371.7" cy="311.4" r="1.75"/>
<circle cx="371.7" cy="313.3" r="1.75"/>
<circle cx="371.7" cy="315.1" r="1.75"/>
<circle cx="371.7" cy="317.0" r="1.75"/>
<circle cx="371.7" cy="318.9" r="1.75"/>
<circle cx="371.7" cy="321.4" r="1.75"/>
<circle cx="371.7" cy="324.6" r="1.75"/>
<circle cx="371.7" cy="331.6" r="1.75"/>
<circle cx="371.7" cy="339.3" r="1.75"/>
<circle cx="371.7" cy="346.9" r="1.75"/>
<circle cx="371.7" cy="353.5" r="1.75"/>
<circle cx="371.7" cy="356.7" r="1.75"/>
<circle cx="391.3" cy="295.3" r="1.75"/>
<circle cx="391.3" cy="296.8" r="1.75"/>
<circle cx="391.3" cy="298.2" r="1.75"/>
<circle cx="391.3" cy="299.5" r="1.75"/>
<circle cx="391.3" cy="301.0" r="1.75"/>
<circle cx="391.3" cy="302.5" r="1.75"/>
<circle cx="391.3" cy="303.8" r="1.75"/>
<circle cx="391.3" cy="305.1" r="1.75"/>
<circle cx="391.3" cy="306.7" r="1.75"/>
<circle cx="391.3" cy="308.2" r="1.75"/>
<circle cx="391.3" cy="310.4" r="1.75"/>
<circle cx="391.3" cy="313.3" r="1.75"/>
<circle cx="391.3" cy="315.1" r="1.75"/>
<circle cx="391.3" cy="321.4" r="1.75"/>
<circle cx="391.3" cy="327.0" r="1.75"/>
<circle cx="391.3" cy="330.2" r="1.75"/>
<circle cx="391.3" cy="336.5" r="1.75"/>
<circle cx="391.3" cy="341.6" r="1.75"/>
<circle cx="391.3" cy="346.3" r="1.75"/>
<circle cx="397.0" cy="284.9" r="1.75"/>
<circle cx="397.0" cy="286.8" r="1.75"/>
<circle cx="397.0" cy="300.0" r="1.75"/>
<circle cx="397.0" cy="314.6" r="1.75"/>
<circle cx="397.0" cy="330.2" r="1.75"/>
<circle cx="397.0" cy="345.4" r="1.75"/>
<circle cx="402.6" cy="284.0" r="1.75"/>
<circle cx="402.6" cy="285.9" r="1.75"/>
<circle cx="402.6" cy="287.8" r="1.75"/>
<circle cx="402.6" cy="289.3" r="1.75"/>
<circle cx="402.6" cy="296.3" r="1.75"/>
<circle cx="402.6" cy="306.3" r="1.75"/>
<circle cx="402.6" cy="318.9" r="1.75"/>
<circle cx="402.6" cy="332.7" r="1.75"/>
<circle cx="402.6" cy="345.4" r="1.75"/>
<circle cx="402.6" cy="355.7" r="1.75"/>
<circle cx="408.5" cy="287.8" r="1.75"/>
<circle cx="408.5" cy="293.1" r="1.75"/>
<circle cx="408.5" cy="300.0" r="1.75"/>
<circle cx="408.5" cy="309.5" r="1.75"/>
<circle cx="408.5" cy="319.5" r="1.75"/>
<circle cx="408.5" cy="327.8" r="1.75"/>
<circle cx="408.5" cy="335.9" r="1.75"/>
<circle cx="408.5" cy="344.8" r="1.75"/>
<circle cx="408.5" cy="352.9" r="1.75"/>
<circle cx="425.3" cy="291.6" r="1.75"/>
<circle cx="425.3" cy="309.1" r="1.75"/>
<circle cx="425.3" cy="327.0" r="1.75"/>
<circle cx="425.3" cy="343.7" r="1.75"/>
<circle cx="425.3" cy="356.1" r="1.75"/>
<circle cx="397.0" cy="275.1" r="1.75"/>
<circle cx="397.0" cy="277.0" r="1.75"/>
<circle cx="397.0" cy="278.9" r="1.75"/>
<circle cx="397.0" cy="280.8" r="1.75"/>
<circle cx="397.0" cy="282.7" r="1.75"/>
<circle cx="402.6" cy="277.0" r="1.75"/>
<circle cx="402.6" cy="278.9" r="1.75"/>
<circle cx="402.6" cy="280.8" r="1.75"/>
<circle cx="402.6" cy="282.7" r="1.75"/>
<circle cx="408.5" cy="268.5" r="1.75"/>
<circle cx="408.5" cy="270.4" r="1.75"/>
<circle cx="408.5" cy="272.3" r="1.75"/>
<circle cx="408.5" cy="274.2" r="1.75"/>
<circle cx="408.5" cy="276.1" r="1.75"/>
<circle cx="408.5" cy="278.0" r="1.75"/>
<circle cx="408.5" cy="279.8" r="1.75"/>
<circle cx="408.5" cy="281.7" r="1.75"/>
<circle cx="425.3" cy="261.3" r="1.75"/>
<circle cx="425.3" cy="263.2" r="1.75"/>
<circle cx="425.3" cy="265.1" r="1.75"/>
<circle cx="425.3" cy="267.0" r="1.75"/>
<circle cx="425.3" cy="268.9" r="1.75"/>
<circle cx="425.3" cy="270.8" r="1.75"/>
<circle cx="425.3" cy="276.1" r="1.75"/>
</g>
<g fill="url(#gp)">
<circle cx="269.9" cy="153.8" r="2.0"/>
<circle cx="272.7" cy="152.8" r="2.0"/>
<circle cx="274.5" cy="152.3" r="2.0"/>
<circle cx="278.2" cy="149.1" r="2.0"/>
<circle cx="280.1" cy="148.2" r="2.0"/>
<circle cx="281.0" cy="144.5" r="2.0"/>
<circle cx="282.0" cy="143.5" r="2.0"/>
<circle cx="282.9" cy="146.3" r="2.0"/>
<circle cx="283.8" cy="147.2" r="2.0"/>
<circle cx="284.8" cy="145.4" r="2.0"/>
<circle cx="285.7" cy="148.2" r="2.0"/>
<circle cx="286.6" cy="149.1" r="2.0"/>
<circle cx="287.6" cy="142.6" r="2.0"/>
<circle cx="287.6" cy="138.9" r="2.0"/>
<circle cx="288.5" cy="137.0" r="2.0"/>
<circle cx="289.4" cy="145.4" r="2.0"/>
<circle cx="290.3" cy="146.3" r="2.0"/>
<circle cx="286.6" cy="145.4" r="2.0"/>
<circle cx="294.1" cy="138.9" r="2.0"/>
<circle cx="295.9" cy="139.8" r="2.0"/>
<circle cx="296.9" cy="138.9" r="2.0"/>
<circle cx="297.8" cy="140.7" r="2.0"/>
<circle cx="298.7" cy="128.6" r="2.0"/>
<circle cx="299.7" cy="133.3" r="2.0"/>
<circle cx="303.4" cy="138.9" r="2.0"/>
<circle cx="304.3" cy="137.0" r="2.0"/>
<circle cx="304.3" cy="124.9" r="2.0"/>
<circle cx="305.2" cy="126.8" r="2.0"/>
<circle cx="309.0" cy="134.2" r="2.0"/>
<circle cx="309.9" cy="140.7" r="2.0"/>
<circle cx="309.9" cy="114.7" r="2.0"/>
<circle cx="311.8" cy="119.3" r="2.0"/>
<circle cx="311.8" cy="133.3" r="2.0"/>
<circle cx="313.6" cy="132.3" r="2.0"/>
<circle cx="315.5" cy="122.1" r="2.0"/>
<circle cx="316.4" cy="112.8" r="2.0"/>
<circle cx="316.4" cy="128.6" r="2.0"/>
<circle cx="318.3" cy="127.7" r="2.0"/>
<circle cx="319.2" cy="119.3" r="2.0"/>
<circle cx="320.1" cy="128.6" r="2.0"/>
<circle cx="322.9" cy="127.7" r="2.0"/>
<circle cx="323.9" cy="110.9" r="2.0"/>
<circle cx="324.8" cy="126.8" r="2.0"/>
<circle cx="328.5" cy="125.8" r="2.0"/>
<circle cx="327.6" cy="106.3" r="2.0"/>
<circle cx="329.5" cy="124.9" r="2.0"/>
<circle cx="331.3" cy="121.2" r="2.0"/>
<circle cx="333.6" cy="91.4" r="2.0"/>
<circle cx="334.7" cy="96.4" r="2.0"/>
<circle cx="334.1" cy="131.0" r="2.0"/>
<circle cx="336.0" cy="110.0" r="2.0"/>
<circle cx="335.0" cy="116.5" r="2.0"/>
<circle cx="337.8" cy="115.6" r="2.0"/>
<circle cx="338.8" cy="116.5" r="2.0"/>
<circle cx="339.7" cy="104.4" r="2.0"/>
<circle cx="340.6" cy="97.0" r="2.0"/>
<circle cx="339.7" cy="99.8" r="2.0"/>
<circle cx="341.6" cy="103.5" r="2.0"/>
<circle cx="341.6" cy="119.3" r="2.0"/>
<circle cx="342.5" cy="115.6" r="2.0"/>
<circle cx="344.4" cy="119.3" r="2.0"/>
<circle cx="345.3" cy="112.8" r="2.0"/>
<circle cx="346.2" cy="109.1" r="2.0"/>
<circle cx="347.1" cy="104.4" r="2.0"/>
<circle cx="348.1" cy="103.5" r="2.0"/>
<circle cx="349.0" cy="113.7" r="2.0"/>
<circle cx="349.9" cy="111.9" r="2.0"/>
<circle cx="350.9" cy="99.8" r="2.0"/>
<circle cx="353.7" cy="105.3" r="2.0"/>
<circle cx="355.5" cy="102.6" r="2.0"/>
<circle cx="357.4" cy="120.2" r="2.0"/>
<circle cx="350.9" cy="86.7" r="2.0"/>
<circle cx="352.7" cy="89.5" r="2.0"/>
<circle cx="353.7" cy="84.9" r="2.0"/>
<circle cx="354.6" cy="91.4" r="2.0"/>
<circle cx="355.5" cy="87.7" r="2.0"/>
<circle cx="356.5" cy="83.9" r="2.0"/>
<circle cx="357.4" cy="90.4" r="2.0"/>
<circle cx="358.9" cy="86.7" r="2.0"/>
<circle cx="360.8" cy="87.7" r="2.0"/>
<circle cx="358.0" cy="94.2" r="2.0"/>
<circle cx="358.9" cy="105.3" r="2.0"/>
<circle cx="360.2" cy="115.6" r="2.0"/>
<circle cx="358.6" cy="120.8" r="2.0"/>
<circle cx="366.9" cy="94.5" r="2.0"/>
<circle cx="365.1" cy="99.8" r="2.0"/>
<circle cx="371.4" cy="91.4" r="2.0"/>
<circle cx="372.9" cy="84.9" r="2.0"/>
<circle cx="373.8" cy="87.7" r="2.0"/>
<circle cx="373.3" cy="107.2" r="2.0"/>
<circle cx="378.1" cy="111.9" r="2.0"/>
<circle cx="378.9" cy="96.0" r="2.0"/>
<circle cx="380.7" cy="99.8" r="2.0"/>
<circle cx="386.9" cy="90.8" r="2.0"/>
<circle cx="387.8" cy="84.9" r="2.0"/>
<circle cx="389.7" cy="101.6" r="2.0"/>
<circle cx="390.6" cy="98.8" r="2.0"/>
<circle cx="391.5" cy="106.8" r="2.0"/>
<circle cx="392.5" cy="94.5" r="2.0"/>
<circle cx="395.2" cy="90.4" r="2.0"/>
<circle cx="396.2" cy="101.1" r="2.0"/>
<circle cx="398.0" cy="86.4" r="2.0"/>
<circle cx="399.9" cy="83.9" r="2.0"/>
<circle cx="401.8" cy="83.0" r="2.0"/>
<circle cx="406.0" cy="89.5" r="2.0"/>
<circle cx="406.8" cy="91.4" r="2.0"/>
<circle cx="407.3" cy="86.7" r="2.0"/>
<circle cx="408.3" cy="84.9" r="2.0"/>
<circle cx="409.2" cy="86.4" r="2.0"/>
<circle cx="410.1" cy="83.9" r="2.0"/>
<circle cx="412.0" cy="83.0" r="2.0"/>
<circle cx="419.5" cy="83.6" r="2.0"/>
<circle cx="371.0" cy="40.7" r="2.0"/>
<circle cx="372.5" cy="39.8" r="2.0"/>
<circle cx="373.8" cy="39.4" r="2.0"/>
<circle cx="375.1" cy="39.2" r="2.0"/>
<circle cx="376.6" cy="39.4" r="2.0"/>
<circle cx="378.1" cy="38.9" r="2.0"/>
<circle cx="380.0" cy="38.9" r="2.0"/>
<circle cx="382.6" cy="36.1" r="2.0"/>
<circle cx="387.8" cy="34.2" r="2.0"/>
<circle cx="391.5" cy="29.2" r="2.0"/>
<circle cx="388.7" cy="37.9" r="2.0"/>
<circle cx="390.6" cy="38.9" r="2.0"/>
<circle cx="391.5" cy="40.7" r="2.0"/>
<circle cx="392.5" cy="42.6" r="2.0"/>
<circle cx="393.4" cy="44.5" r="2.0"/>
<circle cx="391.5" cy="46.3" r="2.0"/>
<circle cx="390.6" cy="48.2" r="2.0"/>
<circle cx="388.7" cy="47.2" r="2.0"/>
<circle cx="386.9" cy="45.4" r="2.0"/>
<circle cx="375.7" cy="48.5" r="2.0"/>
<circle cx="385.0" cy="50.0" r="2.0"/>
<circle cx="381.8" cy="55.6" r="2.0"/>
<circle cx="395.2" cy="51.9" r="2.0"/>
<circle cx="397.1" cy="50.0" r="2.0"/>
<circle cx="399.0" cy="51.0" r="2.0"/>
<circle cx="400.8" cy="51.9" r="2.0"/>
<circle cx="402.7" cy="52.8" r="2.0"/>
<circle cx="404.6" cy="53.8" r="2.0"/>
<circle cx="405.5" cy="51.0" r="2.0"/>
<circle cx="410.1" cy="47.2" r="2.0"/>
<circle cx="396.2" cy="55.6" r="2.0"/>
<circle cx="398.0" cy="56.6" r="2.0"/>
<circle cx="399.0" cy="54.7" r="2.0"/>
<circle cx="401.8" cy="55.6" r="2.0"/>
<circle cx="403.6" cy="56.6" r="2.0"/>
<circle cx="406.4" cy="57.5" r="2.0"/>
<circle cx="394.3" cy="59.3" r="2.0"/>
<circle cx="396.2" cy="60.3" r="2.0"/>
<circle cx="398.0" cy="58.4" r="2.0"/>
<circle cx="399.9" cy="59.3" r="2.0"/>
<circle cx="377.6" cy="60.3" r="2.0"/>
<circle cx="378.5" cy="63.1" r="2.0"/>
<circle cx="380.3" cy="61.2" r="2.0"/>
<circle cx="381.3" cy="64.0" r="2.0"/>
<circle cx="382.2" cy="60.3" r="2.0"/>
<circle cx="383.1" cy="65.9" r="2.0"/>
<circle cx="384.1" cy="63.1" r="2.0"/>
<circle cx="385.0" cy="64.9" r="2.0"/>
<circle cx="385.9" cy="62.1" r="2.0"/>
<circle cx="386.9" cy="64.0" r="2.0"/>
<circle cx="379.4" cy="65.9" r="2.0"/>
<circle cx="376.6" cy="65.9" r="2.0"/>
<circle cx="360.8" cy="65.9" r="2.0"/>
<circle cx="361.7" cy="67.7" r="2.0"/>
<circle cx="359.9" cy="69.6" r="2.0"/>
<circle cx="362.7" cy="70.5" r="2.0"/>
<circle cx="363.6" cy="73.3" r="2.0"/>
<circle cx="361.7" cy="74.2" r="2.0"/>
<circle cx="358.9" cy="77.0" r="2.0"/>
<circle cx="360.8" cy="78.9" r="2.0"/>
<circle cx="364.5" cy="76.1" r="2.0"/>
<circle cx="365.4" cy="79.8" r="2.0"/>
<circle cx="366.4" cy="65.9" r="2.0"/>
<circle cx="367.3" cy="71.5" r="2.0"/>
<circle cx="369.2" cy="73.3" r="2.0"/>
<circle cx="370.1" cy="76.1" r="2.0"/>
<circle cx="371.0" cy="71.5" r="2.0"/>
<circle cx="372.0" cy="77.0" r="2.0"/>
<circle cx="372.9" cy="79.8" r="2.0"/>
<circle cx="373.8" cy="74.2" r="2.0"/>
<circle cx="375.7" cy="71.5" r="2.0"/>
<circle cx="376.6" cy="77.0" r="2.0"/>
<circle cx="377.6" cy="80.8" r="2.0"/>
<circle cx="378.5" cy="73.3" r="2.0"/>
<circle cx="380.3" cy="75.2" r="2.0"/>
<circle cx="368.2" cy="80.8" r="2.0"/>
<circle cx="358.0" cy="81.7" r="2.0"/>
<circle cx="363.6" cy="82.6" r="2.0"/>
<circle cx="369.2" cy="82.6" r="2.0"/>
<circle cx="391.5" cy="71.5" r="2.0"/>
<circle cx="393.4" cy="72.4" r="2.0"/>
<circle cx="395.2" cy="73.3" r="2.0"/>
<circle cx="397.1" cy="72.4" r="2.0"/>
<circle cx="399.0" cy="70.5" r="2.0"/>
<circle cx="399.9" cy="67.7" r="2.0"/>
<circle cx="400.8" cy="65.9" r="2.0"/>
<circle cx="401.8" cy="69.6" r="2.0"/>
<circle cx="402.7" cy="66.8" r="2.0"/>
<circle cx="403.6" cy="64.9" r="2.0"/>
<circle cx="398.0" cy="75.2" r="2.0"/>
<circle cx="396.2" cy="74.2" r="2.0"/>
<circle cx="404.6" cy="70.5" r="2.0"/>
<circle cx="410.1" cy="67.7" r="2.0"/>
<circle cx="411.1" cy="74.2" r="2.0"/>
<circle cx="407.3" cy="77.0" r="2.0"/>
<circle cx="408.3" cy="80.8" r="2.0"/>
<circle cx="410.1" cy="81.7" r="2.0"/>
<circle cx="412.0" cy="79.8" r="2.0"/>
<circle cx="413.9" cy="80.8" r="2.0"/>
<circle cx="415.7" cy="81.7" r="2.0"/>
<circle cx="417.6" cy="81.7" r="2.0"/>
<circle cx="402.7" cy="80.8" r="2.0"/>
<circle cx="387.8" cy="79.8" r="2.0"/>
<circle cx="390.6" cy="81.7" r="2.0"/>
<circle cx="356.5" cy="68.1" r="2.0"/>
<circle cx="357.4" cy="69.6" r="2.0"/>
<circle cx="350.9" cy="80.8" r="2.0"/>
<circle cx="352.7" cy="79.8" r="2.0"/>
<circle cx="354.6" cy="78.9" r="2.0"/>
<circle cx="356.5" cy="78.0" r="2.0"/>
<circle cx="357.4" cy="76.1" r="2.0"/>
<circle cx="355.5" cy="81.7" r="2.0"/>
<circle cx="353.7" cy="82.6" r="2.0"/>
<circle cx="389.4" cy="73.0" r="2.0"/>
<circle cx="391.7" cy="73.7" r="2.0"/>
<circle cx="394.0" cy="73.0" r="2.0"/>
<circle cx="396.3" cy="72.2" r="2.0"/>
<circle cx="398.6" cy="71.4" r="2.0"/>
<circle cx="400.9" cy="69.9" r="2.0"/>
<circle cx="403.2" cy="68.4" r="2.0"/>
<circle cx="390.9" cy="71.4" r="2.0"/>
<circle cx="395.5" cy="74.5" r="2.0"/>
<circle cx="399.3" cy="73.7" r="2.0"/>
<circle cx="401.6" cy="73.0" r="2.0"/>
<circle cx="403.9" cy="71.4" r="2.0"/>
<circle cx="392.4" cy="70.7" r="2.0"/>
</g>
</g>
<line x1="46.00" y1="151.22" x2="195.07" y2="8.22" stroke="#ff1212" stroke-width="1.35"/>
<line x1="268.00" y1="150.25" x2="420.10" y2="49.86" stroke="#ff1212" stroke-width="1.35"/>
<line x1="512.94" y1="152.00" x2="659.02" y2="83.03" stroke="#ff1212" stroke-width="1.35"/>
<line x1="40.40" y1="330.27" x2="208.14" y2="221.57" stroke="#ff1212" stroke-width="1.35"/>
<line x1="270.21" y1="315.44" x2="425.39" y2="294.22" stroke="#ff1212" stroke-width="1.35"/>
<rect x="46.00" y="8.40" width="178.60" height="143.00" fill="none" stroke="#000" stroke-width="1.25"/>
<line x1="57.16" y1="151.40" x2="57.16" y2="149.40" stroke="#111" stroke-width="1"/>
<line x1="68.33" y1="151.40" x2="68.33" y2="147.90" stroke="#111" stroke-width="1"/>
<line x1="79.49" y1="151.40" x2="79.49" y2="149.40" stroke="#111" stroke-width="1"/>
<line x1="90.65" y1="151.40" x2="90.65" y2="147.90" stroke="#111" stroke-width="1"/>
<line x1="101.81" y1="151.40" x2="101.81" y2="149.40" stroke="#111" stroke-width="1"/>
<line x1="112.97" y1="151.40" x2="112.97" y2="147.90" stroke="#111" stroke-width="1"/>
<line x1="124.14" y1="151.40" x2="124.14" y2="149.40" stroke="#111" stroke-width="1"/>
<line x1="135.30" y1="151.40" x2="135.30" y2="147.90" stroke="#111" stroke-width="1"/>
<line x1="146.46" y1="151.40" x2="146.46" y2="149.40" stroke="#111" stroke-width="1"/>
<line x1="157.62" y1="151.40" x2="157.62" y2="147.90" stroke="#111" stroke-width="1"/>
<line x1="168.79" y1="151.40" x2="168.79" y2="149.40" stroke="#111" stroke-width="1"/>
<line x1="179.95" y1="151.40" x2="179.95" y2="147.90" stroke="#111" stroke-width="1"/>
<line x1="191.11" y1="151.40" x2="191.11" y2="149.40" stroke="#111" stroke-width="1"/>
<line x1="202.28" y1="151.40" x2="202.28" y2="147.90" stroke="#111" stroke-width="1"/>
<line x1="213.44" y1="151.40" x2="213.44" y2="149.40" stroke="#111" stroke-width="1"/>
<line x1="46.00" y1="139.48" x2="48.00" y2="139.48" stroke="#111" stroke-width="1"/>
<line x1="46.00" y1="127.57" x2="49.50" y2="127.57" stroke="#111" stroke-width="1"/>
<line x1="46.00" y1="115.65" x2="48.00" y2="115.65" stroke="#111" stroke-width="1"/>
<line x1="46.00" y1="103.73" x2="49.50" y2="103.73" stroke="#111" stroke-width="1"/>
<line x1="46.00" y1="91.82" x2="48.00" y2="91.82" stroke="#111" stroke-width="1"/>
<line x1="46.00" y1="79.90" x2="49.50" y2="79.90" stroke="#111" stroke-width="1"/>
<line x1="46.00" y1="67.98" x2="48.00" y2="67.98" stroke="#111" stroke-width="1"/>
<line x1="46.00" y1="56.07" x2="49.50" y2="56.07" stroke="#111" stroke-width="1"/>
<line x1="46.00" y1="44.15" x2="48.00" y2="44.15" stroke="#111" stroke-width="1"/>
<line x1="46.00" y1="32.23" x2="49.50" y2="32.23" stroke="#111" stroke-width="1"/>
<line x1="46.00" y1="20.32" x2="48.00" y2="20.32" stroke="#111" stroke-width="1"/>
<text transform="translate(46.00,165.40) scale(1,1.06)" text-anchor="middle" font-size="13">0</text>
<text transform="translate(68.33,165.40) scale(1,1.06)" text-anchor="middle" font-size="13">2</text>
<text transform="translate(90.65,165.40) scale(1,1.06)" text-anchor="middle" font-size="13">4</text>
<text transform="translate(112.97,165.40) scale(1,1.06)" text-anchor="middle" font-size="13">6</text>
<text transform="translate(135.30,165.40) scale(1,1.06)" text-anchor="middle" font-size="13">8</text>
<text transform="translate(157.62,165.40) scale(1,1.06)" text-anchor="middle" font-size="13">10</text>
<text transform="translate(179.95,165.40) scale(1,1.06)" text-anchor="middle" font-size="13">12</text>
<text transform="translate(202.28,165.40) scale(1,1.06)" text-anchor="middle" font-size="13">14</text>
<text transform="translate(224.60,165.40) scale(1,1.06)" text-anchor="middle" font-size="13">16</text>
<text transform="translate(42.20,155.57) scale(1,1.06)" text-anchor="end" font-size="13">0</text>
<text transform="translate(42.20,131.74) scale(1,1.06)" text-anchor="end" font-size="13">10</text>
<text transform="translate(42.20,107.90) scale(1,1.06)" text-anchor="end" font-size="13">20</text>
<text transform="translate(42.20,84.07) scale(1,1.06)" text-anchor="end" font-size="13">30</text>
<text transform="translate(42.20,60.24) scale(1,1.06)" text-anchor="end" font-size="13">40</text>
<text transform="translate(42.20,36.40) scale(1,1.06)" text-anchor="end" font-size="13">50</text>
<text transform="translate(42.20,12.57) scale(1,1.06)" text-anchor="end" font-size="13">60</text>
<rect x="268.00" y="10.60" width="180.00" height="144.60" fill="none" stroke="#000" stroke-width="1.25"/>
<line x1="286.00" y1="155.20" x2="286.00" y2="153.20" stroke="#111" stroke-width="1"/>
<line x1="304.00" y1="155.20" x2="304.00" y2="151.70" stroke="#111" stroke-width="1"/>
<line x1="322.00" y1="155.20" x2="322.00" y2="153.20" stroke="#111" stroke-width="1"/>
<line x1="340.00" y1="155.20" x2="340.00" y2="151.70" stroke="#111" stroke-width="1"/>
<line x1="358.00" y1="155.20" x2="358.00" y2="153.20" stroke="#111" stroke-width="1"/>
<line x1="376.00" y1="155.20" x2="376.00" y2="151.70" stroke="#111" stroke-width="1"/>
<line x1="394.00" y1="155.20" x2="394.00" y2="153.20" stroke="#111" stroke-width="1"/>
<line x1="412.00" y1="155.20" x2="412.00" y2="151.70" stroke="#111" stroke-width="1"/>
<line x1="430.00" y1="155.20" x2="430.00" y2="153.20" stroke="#111" stroke-width="1"/>
<line x1="268.00" y1="143.15" x2="270.00" y2="143.15" stroke="#111" stroke-width="1"/>
<line x1="268.00" y1="131.10" x2="271.50" y2="131.10" stroke="#111" stroke-width="1"/>
<line x1="268.00" y1="119.05" x2="270.00" y2="119.05" stroke="#111" stroke-width="1"/>
<line x1="268.00" y1="107.00" x2="271.50" y2="107.00" stroke="#111" stroke-width="1"/>
<line x1="268.00" y1="94.95" x2="270.00" y2="94.95" stroke="#111" stroke-width="1"/>
<line x1="268.00" y1="82.90" x2="271.50" y2="82.90" stroke="#111" stroke-width="1"/>
<line x1="268.00" y1="70.85" x2="270.00" y2="70.85" stroke="#111" stroke-width="1"/>
<line x1="268.00" y1="58.80" x2="271.50" y2="58.80" stroke="#111" stroke-width="1"/>
<line x1="268.00" y1="46.75" x2="270.00" y2="46.75" stroke="#111" stroke-width="1"/>
<line x1="268.00" y1="34.70" x2="271.50" y2="34.70" stroke="#111" stroke-width="1"/>
<line x1="268.00" y1="22.65" x2="270.00" y2="22.65" stroke="#111" stroke-width="1"/>
<text transform="translate(268.00,169.20) scale(1,1.06)" text-anchor="middle" font-size="13">0</text>
<text transform="translate(304.00,169.20) scale(1,1.06)" text-anchor="middle" font-size="13">2000</text>
<text transform="translate(340.00,169.20) scale(1,1.06)" text-anchor="middle" font-size="13">4000</text>
<text transform="translate(376.00,169.20) scale(1,1.06)" text-anchor="middle" font-size="13">6000</text>
<text transform="translate(412.00,169.20) scale(1,1.06)" text-anchor="middle" font-size="13">8000</text>
<text transform="translate(448.00,169.20) scale(1,1.06)" text-anchor="middle" font-size="13">10000</text>
<text transform="translate(264.20,159.37) scale(1,1.06)" text-anchor="end" font-size="13">0</text>
<text transform="translate(264.20,135.27) scale(1,1.06)" text-anchor="end" font-size="13">10</text>
<text transform="translate(264.20,111.17) scale(1,1.06)" text-anchor="end" font-size="13">20</text>
<text transform="translate(264.20,87.07) scale(1,1.06)" text-anchor="end" font-size="13">30</text>
<text transform="translate(264.20,62.97) scale(1,1.06)" text-anchor="end" font-size="13">40</text>
<text transform="translate(264.20,38.87) scale(1,1.06)" text-anchor="end" font-size="13">50</text>
<text transform="translate(264.20,14.77) scale(1,1.06)" text-anchor="end" font-size="13">60</text>
<rect x="503.30" y="11.60" width="175.30" height="140.50" fill="none" stroke="#000" stroke-width="1.25"/>
<line x1="517.91" y1="152.10" x2="517.91" y2="150.10" stroke="#111" stroke-width="1"/>
<line x1="532.52" y1="152.10" x2="532.52" y2="148.60" stroke="#111" stroke-width="1"/>
<line x1="547.12" y1="152.10" x2="547.12" y2="150.10" stroke="#111" stroke-width="1"/>
<line x1="561.73" y1="152.10" x2="561.73" y2="148.60" stroke="#111" stroke-width="1"/>
<line x1="576.34" y1="152.10" x2="576.34" y2="150.10" stroke="#111" stroke-width="1"/>
<line x1="590.95" y1="152.10" x2="590.95" y2="148.60" stroke="#111" stroke-width="1"/>
<line x1="605.56" y1="152.10" x2="605.56" y2="150.10" stroke="#111" stroke-width="1"/>
<line x1="620.17" y1="152.10" x2="620.17" y2="148.60" stroke="#111" stroke-width="1"/>
<line x1="634.78" y1="152.10" x2="634.78" y2="150.10" stroke="#111" stroke-width="1"/>
<line x1="649.38" y1="152.10" x2="649.38" y2="148.60" stroke="#111" stroke-width="1"/>
<line x1="663.99" y1="152.10" x2="663.99" y2="150.10" stroke="#111" stroke-width="1"/>
<line x1="503.30" y1="143.32" x2="505.30" y2="143.32" stroke="#111" stroke-width="1"/>
<line x1="503.30" y1="134.54" x2="506.80" y2="134.54" stroke="#111" stroke-width="1"/>
<line x1="503.30" y1="125.76" x2="505.30" y2="125.76" stroke="#111" stroke-width="1"/>
<line x1="503.30" y1="116.97" x2="506.80" y2="116.97" stroke="#111" stroke-width="1"/>
<line x1="503.30" y1="108.19" x2="505.30" y2="108.19" stroke="#111" stroke-width="1"/>
<line x1="503.30" y1="99.41" x2="506.80" y2="99.41" stroke="#111" stroke-width="1"/>
<line x1="503.30" y1="90.63" x2="505.30" y2="90.63" stroke="#111" stroke-width="1"/>
<line x1="503.30" y1="81.85" x2="506.80" y2="81.85" stroke="#111" stroke-width="1"/>
<line x1="503.30" y1="73.07" x2="505.30" y2="73.07" stroke="#111" stroke-width="1"/>
<line x1="503.30" y1="64.29" x2="506.80" y2="64.29" stroke="#111" stroke-width="1"/>
<line x1="503.30" y1="55.51" x2="505.30" y2="55.51" stroke="#111" stroke-width="1"/>
<line x1="503.30" y1="46.72" x2="506.80" y2="46.72" stroke="#111" stroke-width="1"/>
<line x1="503.30" y1="37.94" x2="505.30" y2="37.94" stroke="#111" stroke-width="1"/>
<line x1="503.30" y1="29.16" x2="506.80" y2="29.16" stroke="#111" stroke-width="1"/>
<line x1="503.30" y1="20.38" x2="505.30" y2="20.38" stroke="#111" stroke-width="1"/>
<text transform="translate(503.30,166.10) scale(1,1.06)" text-anchor="middle" font-size="13">0</text>
<text transform="translate(532.52,166.10) scale(1,1.06)" text-anchor="middle" font-size="13">1</text>
<text transform="translate(561.73,166.10) scale(1,1.06)" text-anchor="middle" font-size="13">2</text>
<text transform="translate(590.95,166.10) scale(1,1.06)" text-anchor="middle" font-size="13">3</text>
<text transform="translate(620.17,166.10) scale(1,1.06)" text-anchor="middle" font-size="13">4</text>
<text transform="translate(649.38,166.10) scale(1,1.06)" text-anchor="middle" font-size="13">5</text>
<text transform="translate(678.60,166.10) scale(1,1.06)" text-anchor="middle" font-size="13">6</text>
<text transform="translate(499.50,156.27) scale(1,1.06)" text-anchor="end" font-size="13">0</text>
<text transform="translate(499.50,138.71) scale(1,1.06)" text-anchor="end" font-size="13">10</text>
<text transform="translate(499.50,121.14) scale(1,1.06)" text-anchor="end" font-size="13">20</text>
<text transform="translate(499.50,103.58) scale(1,1.06)" text-anchor="end" font-size="13">30</text>
<text transform="translate(499.50,86.02) scale(1,1.06)" text-anchor="end" font-size="13">40</text>
<text transform="translate(499.50,68.46) scale(1,1.06)" text-anchor="end" font-size="13">50</text>
<text transform="translate(499.50,50.89) scale(1,1.06)" text-anchor="end" font-size="13">60</text>
<text transform="translate(499.50,33.33) scale(1,1.06)" text-anchor="end" font-size="13">70</text>
<text transform="translate(499.50,15.77) scale(1,1.06)" text-anchor="end" font-size="13">80</text>
<rect x="40.40" y="208.30" width="184.80" height="148.10" fill="none" stroke="#000" stroke-width="1.25"/>
<line x1="54.62" y1="356.40" x2="54.62" y2="354.40" stroke="#111" stroke-width="1"/>
<line x1="68.83" y1="356.40" x2="68.83" y2="352.90" stroke="#111" stroke-width="1"/>
<line x1="83.05" y1="356.40" x2="83.05" y2="354.40" stroke="#111" stroke-width="1"/>
<line x1="97.26" y1="356.40" x2="97.26" y2="352.90" stroke="#111" stroke-width="1"/>
<line x1="111.48" y1="356.40" x2="111.48" y2="354.40" stroke="#111" stroke-width="1"/>
<line x1="125.69" y1="356.40" x2="125.69" y2="352.90" stroke="#111" stroke-width="1"/>
<line x1="139.91" y1="356.40" x2="139.91" y2="354.40" stroke="#111" stroke-width="1"/>
<line x1="154.12" y1="356.40" x2="154.12" y2="352.90" stroke="#111" stroke-width="1"/>
<line x1="168.34" y1="356.40" x2="168.34" y2="354.40" stroke="#111" stroke-width="1"/>
<line x1="182.55" y1="356.40" x2="182.55" y2="352.90" stroke="#111" stroke-width="1"/>
<line x1="196.77" y1="356.40" x2="196.77" y2="354.40" stroke="#111" stroke-width="1"/>
<line x1="210.98" y1="356.40" x2="210.98" y2="352.90" stroke="#111" stroke-width="1"/>
<line x1="40.40" y1="344.06" x2="42.40" y2="344.06" stroke="#111" stroke-width="1"/>
<line x1="40.40" y1="331.72" x2="43.90" y2="331.72" stroke="#111" stroke-width="1"/>
<line x1="40.40" y1="319.38" x2="42.40" y2="319.38" stroke="#111" stroke-width="1"/>
<line x1="40.40" y1="307.03" x2="43.90" y2="307.03" stroke="#111" stroke-width="1"/>
<line x1="40.40" y1="294.69" x2="42.40" y2="294.69" stroke="#111" stroke-width="1"/>
<line x1="40.40" y1="282.35" x2="43.90" y2="282.35" stroke="#111" stroke-width="1"/>
<line x1="40.40" y1="270.01" x2="42.40" y2="270.01" stroke="#111" stroke-width="1"/>
<line x1="40.40" y1="257.67" x2="43.90" y2="257.67" stroke="#111" stroke-width="1"/>
<line x1="40.40" y1="245.32" x2="42.40" y2="245.32" stroke="#111" stroke-width="1"/>
<line x1="40.40" y1="232.98" x2="43.90" y2="232.98" stroke="#111" stroke-width="1"/>
<line x1="40.40" y1="220.64" x2="42.40" y2="220.64" stroke="#111" stroke-width="1"/>
<text transform="translate(40.40,371.00) scale(1,1.06)" text-anchor="middle" font-size="14.2">0</text>
<text transform="translate(68.83,371.00) scale(1,1.06)" text-anchor="middle" font-size="14.2">200</text>
<text transform="translate(97.26,371.00) scale(1,1.06)" text-anchor="middle" font-size="14.2">400</text>
<text transform="translate(125.69,371.00) scale(1,1.06)" text-anchor="middle" font-size="14.2">600</text>
<text transform="translate(154.12,371.00) scale(1,1.06)" text-anchor="middle" font-size="14.2">800</text>
<text transform="translate(182.55,371.00) scale(1,1.06)" text-anchor="middle" font-size="14.2">1000</text>
<text transform="translate(210.98,371.00) scale(1,1.06)" text-anchor="middle" font-size="14.2">1200</text>
<text transform="translate(37.50,360.92) scale(1,1.06)" text-anchor="end" font-size="14.2">0</text>
<text transform="translate(37.50,336.23) scale(1,1.06)" text-anchor="end" font-size="14.2">10</text>
<text transform="translate(37.50,311.55) scale(1,1.06)" text-anchor="end" font-size="14.2">20</text>
<text transform="translate(37.50,286.87) scale(1,1.06)" text-anchor="end" font-size="14.2">30</text>
<text transform="translate(37.50,262.18) scale(1,1.06)" text-anchor="end" font-size="14.2">40</text>
<text transform="translate(37.50,237.50) scale(1,1.06)" text-anchor="end" font-size="14.2">50</text>
<text transform="translate(37.50,212.82) scale(1,1.06)" text-anchor="end" font-size="14.2">60</text>
<rect x="265.00" y="210.60" width="182.90" height="146.90" fill="none" stroke="#000" stroke-width="1.25"/>
<line x1="279.07" y1="357.50" x2="279.07" y2="355.50" stroke="#111" stroke-width="1"/>
<line x1="293.14" y1="357.50" x2="293.14" y2="354.00" stroke="#111" stroke-width="1"/>
<line x1="307.21" y1="357.50" x2="307.21" y2="355.50" stroke="#111" stroke-width="1"/>
<line x1="321.28" y1="357.50" x2="321.28" y2="354.00" stroke="#111" stroke-width="1"/>
<line x1="335.35" y1="357.50" x2="335.35" y2="355.50" stroke="#111" stroke-width="1"/>
<line x1="349.42" y1="357.50" x2="349.42" y2="354.00" stroke="#111" stroke-width="1"/>
<line x1="363.48" y1="357.50" x2="363.48" y2="355.50" stroke="#111" stroke-width="1"/>
<line x1="377.55" y1="357.50" x2="377.55" y2="354.00" stroke="#111" stroke-width="1"/>
<line x1="391.62" y1="357.50" x2="391.62" y2="355.50" stroke="#111" stroke-width="1"/>
<line x1="405.69" y1="357.50" x2="405.69" y2="354.00" stroke="#111" stroke-width="1"/>
<line x1="419.76" y1="357.50" x2="419.76" y2="355.50" stroke="#111" stroke-width="1"/>
<line x1="433.83" y1="357.50" x2="433.83" y2="354.00" stroke="#111" stroke-width="1"/>
<line x1="265.00" y1="348.32" x2="267.00" y2="348.32" stroke="#111" stroke-width="1"/>
<line x1="265.00" y1="339.14" x2="268.50" y2="339.14" stroke="#111" stroke-width="1"/>
<line x1="265.00" y1="329.96" x2="267.00" y2="329.96" stroke="#111" stroke-width="1"/>
<line x1="265.00" y1="320.77" x2="268.50" y2="320.77" stroke="#111" stroke-width="1"/>
<line x1="265.00" y1="311.59" x2="267.00" y2="311.59" stroke="#111" stroke-width="1"/>
<line x1="265.00" y1="302.41" x2="268.50" y2="302.41" stroke="#111" stroke-width="1"/>
<line x1="265.00" y1="293.23" x2="267.00" y2="293.23" stroke="#111" stroke-width="1"/>
<line x1="265.00" y1="284.05" x2="268.50" y2="284.05" stroke="#111" stroke-width="1"/>
<line x1="265.00" y1="274.87" x2="267.00" y2="274.87" stroke="#111" stroke-width="1"/>
<line x1="265.00" y1="265.69" x2="268.50" y2="265.69" stroke="#111" stroke-width="1"/>
<line x1="265.00" y1="256.51" x2="267.00" y2="256.51" stroke="#111" stroke-width="1"/>
<line x1="265.00" y1="247.32" x2="268.50" y2="247.32" stroke="#111" stroke-width="1"/>
<line x1="265.00" y1="238.14" x2="267.00" y2="238.14" stroke="#111" stroke-width="1"/>
<line x1="265.00" y1="228.96" x2="268.50" y2="228.96" stroke="#111" stroke-width="1"/>
<line x1="265.00" y1="219.78" x2="267.00" y2="219.78" stroke="#111" stroke-width="1"/>
<text transform="translate(265.00,371.50) scale(1,1.06)" text-anchor="middle" font-size="13">0</text>
<text transform="translate(293.14,371.50) scale(1,1.06)" text-anchor="middle" font-size="13">10</text>
<text transform="translate(321.28,371.50) scale(1,1.06)" text-anchor="middle" font-size="13">20</text>
<text transform="translate(349.42,371.50) scale(1,1.06)" text-anchor="middle" font-size="13">30</text>
<text transform="translate(377.55,371.50) scale(1,1.06)" text-anchor="middle" font-size="13">40</text>
<text transform="translate(405.69,371.50) scale(1,1.06)" text-anchor="middle" font-size="13">50</text>
<text transform="translate(433.83,371.50) scale(1,1.06)" text-anchor="middle" font-size="13">60</text>
<text transform="translate(261.20,361.67) scale(1,1.06)" text-anchor="end" font-size="13">0</text>
<text transform="translate(261.20,343.31) scale(1,1.06)" text-anchor="end" font-size="13">10</text>
<text transform="translate(261.20,324.94) scale(1,1.06)" text-anchor="end" font-size="13">20</text>
<text transform="translate(261.20,306.58) scale(1,1.06)" text-anchor="end" font-size="13">30</text>
<text transform="translate(261.20,288.22) scale(1,1.06)" text-anchor="end" font-size="13">40</text>
<text transform="translate(261.20,269.86) scale(1,1.06)" text-anchor="end" font-size="13">50</text>
<text transform="translate(261.20,251.50) scale(1,1.06)" text-anchor="end" font-size="13">60</text>
<text transform="translate(261.20,233.13) scale(1,1.06)" text-anchor="end" font-size="13">70</text>
<text transform="translate(261.20,214.77) scale(1,1.06)" text-anchor="end" font-size="13">80</text>
<text transform="translate(9.50,12.30) scale(1,1.06)" font-size="13.5">(a)</text>
<text transform="translate(233.60,14.80) scale(1,1.06)" font-size="13.5">(b)</text>
<text transform="translate(468.60,15.00) scale(1,1.06)" font-size="13.5">(c)</text>
<text transform="translate(2.90,212.00) scale(1,1.06)" font-size="13.5">(d)</text>
<text transform="translate(229.30,214.30) scale(1,1.06)" font-size="13.5">(e)</text>
<text transform="translate(22.90,172.70) rotate(-90)" font-size="13.7">Rate of advance/(mm·min<tspan dy="-5.8" font-size="8.8">-1</tspan><tspan dy="5.8">)</tspan></text>
<text transform="translate(245.00,175.50) rotate(-90)" font-size="13.75">Rate of advance/(mm·min<tspan dy="-5.8" font-size="8.8">-1</tspan><tspan dy="5.8">)</tspan></text>
<text transform="translate(481.00,173.40) rotate(-90)" font-size="13.2">Rate of advance/(mm·min<tspan dy="-5.5" font-size="8.4">-1</tspan><tspan dy="5.5">)</tspan></text>
<text transform="translate(16.60,377.10) rotate(-90)" font-size="14.1">Rate of advance/(mm·min<tspan dy="-5.9" font-size="9.0">-1</tspan><tspan dy="5.9">)</tspan></text>
<text transform="translate(241.10,370.70) rotate(-90)" font-size="13.05">Rate of advance/(mm·min<tspan dy="-5.5" font-size="8.4">-1</tspan><tspan dy="5.5">)</tspan></text>
<text transform="translate(79.80,179.90) scale(1,1.06)" font-size="13.6">Penetration/(mm·r<tspan dy="-5.7" font-size="9.0">-1</tspan><tspan dy="5.7">)</tspan></text>
<text transform="translate(321.20,181.10) scale(1,1.06)" font-size="13.56">Total thrust/kN</text>
<text transform="translate(499.90,179.50) scale(1,1.06)" font-size="13.3">Rotating speed of cutter/(r·min<tspan dy="-5.6" font-size="8.8">-1</tspan><tspan dy="5.6">)</tspan></text>
<text transform="translate(66.60,384.90) scale(1,1.06)" font-size="14.0">Torque of cutter/(kN·m)</text>
<text transform="translate(257.30,385.30) scale(1,1.06)" font-size="13.9">Quantity of water surging/(m<tspan dy="-5.8" font-size="9.2">3</tspan><tspan dy="5.8">·h</tspan><tspan dy="-5.8" font-size="9.2">-1</tspan><tspan dy="5.8">)</tspan></text>
<text transform="translate(56.10,26.00) scale(1,1.06)" font-size="12.8"><tspan font-style="italic">v</tspan>=4.493<tspan font-style="italic">p</tspan>+0.0762</text>
<text transform="translate(56.10,44.00) scale(1,1.06)" font-size="12.8"><tspan font-style="italic">R</tspan><tspan dy="-4.6" font-size="9.0">2</tspan><tspan dy="4.6">=0.910</tspan></text>
<text transform="translate(276.10,31.90) scale(1,1.06)" font-size="12.9"><tspan font-style="italic">v</tspan>=2.053+0.00493<tspan font-style="italic">F</tspan></text>
<text transform="translate(276.10,49.60) scale(1,1.06)" font-size="12.9"><tspan font-style="italic">R</tspan><tspan dy="-4.6" font-size="9.0">2</tspan><tspan dy="4.6">=0.682</tspan></text>
<text transform="translate(514.90,31.90) scale(1,1.06)" font-size="12.6"><tspan font-style="italic">v</tspan>=-2.538+7.855<tspan font-style="italic">n</tspan></text>
<text transform="translate(514.90,49.40) scale(1,1.06)" font-size="12.6"><tspan font-style="italic">R</tspan><tspan dy="-4.5" font-size="8.8">2</tspan><tspan dy="4.5">=0.712</tspan></text>
<text transform="translate(107.00,326.10) scale(1,1.06)" font-size="13.2">v=10.586+0.03732T</text>
<text transform="translate(107.00,344.60) scale(1,1.06)" font-size="13.2">R<tspan dy="-4.8" font-size="9.2">2</tspan><tspan dy="4.8">=0.573</tspan></text>
<text transform="translate(276.40,228.60) scale(1,1.06)" font-size="13.0"><tspan font-style="italic">v</tspan>=22.519+0.2095<tspan font-style="italic">w</tspan></text>
<text transform="translate(276.40,247.00) scale(1,1.06)" font-size="13.0"><tspan font-style="italic">R</tspan><tspan dy="-4.7" font-size="9.1">2</tspan><tspan dy="4.7">=0.0823</tspan></text>
<rect x="474.30" y="214.30" width="27.70" height="26.60" fill="rgb(255,0,0)"/>
<rect x="502.00" y="214.30" width="27.70" height="26.60" fill="rgb(255,13,13)"/>
<rect x="529.70" y="214.30" width="27.80" height="26.60" fill="rgb(255,43,43)"/>
<rect x="557.50" y="214.30" width="27.80" height="26.60" fill="rgb(255,41,41)"/>
<rect x="585.30" y="214.30" width="27.70" height="26.60" fill="rgb(255,61,61)"/>
<rect x="613.00" y="214.30" width="27.70" height="26.60" fill="rgb(255,181,181)"/>
<rect x="474.30" y="240.90" width="27.70" height="26.60" fill="rgb(255,13,13)"/>
<rect x="502.00" y="240.90" width="27.70" height="26.60" fill="rgb(255,0,0)"/>
<rect x="529.70" y="240.90" width="27.80" height="26.60" fill="rgb(255,51,51)"/>
<rect x="557.50" y="240.90" width="27.80" height="26.60" fill="rgb(255,69,69)"/>
<rect x="585.30" y="240.90" width="27.70" height="26.60" fill="rgb(255,56,56)"/>
<rect x="613.00" y="240.90" width="27.70" height="26.60" fill="rgb(255,173,173)"/>
<rect x="474.30" y="267.50" width="27.70" height="26.60" fill="rgb(255,43,43)"/>
<rect x="502.00" y="267.50" width="27.70" height="26.60" fill="rgb(255,51,51)"/>
<rect x="529.70" y="267.50" width="27.80" height="26.60" fill="rgb(255,0,0)"/>
<rect x="557.50" y="267.50" width="27.80" height="26.60" fill="rgb(255,41,41)"/>
<rect x="585.30" y="267.50" width="27.70" height="26.60" fill="rgb(255,28,28)"/>
<rect x="613.00" y="267.50" width="27.70" height="26.60" fill="rgb(255,173,173)"/>
<rect x="474.30" y="294.10" width="27.70" height="26.70" fill="rgb(255,41,41)"/>
<rect x="502.00" y="294.10" width="27.70" height="26.70" fill="rgb(255,69,69)"/>
<rect x="529.70" y="294.10" width="27.80" height="26.70" fill="rgb(255,41,41)"/>
<rect x="557.50" y="294.10" width="27.80" height="26.70" fill="rgb(255,0,0)"/>
<rect x="585.30" y="294.10" width="27.70" height="26.70" fill="rgb(255,87,87)"/>
<rect x="613.00" y="294.10" width="27.70" height="26.70" fill="#ffffff"/>
<rect x="474.30" y="320.80" width="27.70" height="26.60" fill="rgb(255,61,61)"/>
<rect x="502.00" y="320.80" width="27.70" height="26.60" fill="rgb(255,56,56)"/>
<rect x="529.70" y="320.80" width="27.80" height="26.60" fill="rgb(255,28,28)"/>
<rect x="557.50" y="320.80" width="27.80" height="26.60" fill="rgb(255,87,87)"/>
<rect x="585.30" y="320.80" width="27.70" height="26.60" fill="rgb(255,0,0)"/>
<rect x="613.00" y="320.80" width="27.70" height="26.60" fill="rgb(255,171,171)"/>
<rect x="474.30" y="347.40" width="27.70" height="26.60" fill="rgb(255,181,181)"/>
<rect x="502.00" y="347.40" width="27.70" height="26.60" fill="rgb(255,173,173)"/>
<rect x="529.70" y="347.40" width="27.80" height="26.60" fill="rgb(255,173,173)"/>
<rect x="557.50" y="347.40" width="27.80" height="26.60" fill="#ffffff"/>
<rect x="585.30" y="347.40" width="27.70" height="26.60" fill="rgb(255,171,171)"/>
<rect x="613.00" y="347.40" width="27.70" height="26.60" fill="rgb(255,0,0)"/>
<line x1="502.00" y1="214.3" x2="502.00" y2="374.0" stroke="#fff" stroke-opacity="0.45" stroke-width="0.8"/>
<line x1="529.70" y1="214.3" x2="529.70" y2="374.0" stroke="#fff" stroke-opacity="0.45" stroke-width="0.8"/>
<line x1="557.50" y1="214.3" x2="557.50" y2="374.0" stroke="#fff" stroke-opacity="0.45" stroke-width="0.8"/>
<line x1="585.30" y1="214.3" x2="585.30" y2="374.0" stroke="#fff" stroke-opacity="0.45" stroke-width="0.8"/>
<line x1="613.00" y1="214.3" x2="613.00" y2="374.0" stroke="#fff" stroke-opacity="0.45" stroke-width="0.8"/>
<line x1="474.3" y1="240.90" x2="640.7" y2="240.90" stroke="#fff" stroke-opacity="0.45" stroke-width="0.8"/>
<line x1="474.3" y1="267.50" x2="640.7" y2="267.50" stroke="#fff" stroke-opacity="0.45" stroke-width="0.8"/>
<line x1="474.3" y1="294.10" x2="640.7" y2="294.10" stroke="#fff" stroke-opacity="0.45" stroke-width="0.8"/>
<line x1="474.3" y1="320.80" x2="640.7" y2="320.80" stroke="#fff" stroke-opacity="0.45" stroke-width="0.8"/>
<line x1="474.3" y1="347.40" x2="640.7" y2="347.40" stroke="#fff" stroke-opacity="0.45" stroke-width="0.8"/>
<rect x="474.3" y="214.3" width="166.40" height="159.70" fill="none" stroke="#444" stroke-width="1"/>
<text transform="translate(488.15,230.90) scale(1,1.06)" text-anchor="middle" font-size="10.2" fill="#fff">1</text>
<text transform="translate(488.15,257.50) scale(1,1.06)" text-anchor="middle" font-size="10.2" fill="#fff">0.95</text>
<text transform="translate(515.85,257.50) scale(1,1.06)" text-anchor="middle" font-size="10.2" fill="#fff">1</text>
<text transform="translate(488.15,284.10) scale(1,1.06)" text-anchor="middle" font-size="10.2" fill="#fff">0.83</text>
<text transform="translate(515.85,284.10) scale(1,1.06)" text-anchor="middle" font-size="10.2" fill="#fff">0.8</text>
<text transform="translate(543.60,284.10) scale(1,1.06)" text-anchor="middle" font-size="10.2" fill="#fff">1</text>
<text transform="translate(488.15,310.75) scale(1,1.06)" text-anchor="middle" font-size="10.2" fill="#fff">0.84</text>
<text transform="translate(515.85,310.75) scale(1,1.06)" text-anchor="middle" font-size="10.2" fill="#fff">0.73</text>
<text transform="translate(543.60,310.75) scale(1,1.06)" text-anchor="middle" font-size="10.2" fill="#fff">0.84</text>
<text transform="translate(571.40,310.75) scale(1,1.06)" text-anchor="middle" font-size="10.2" fill="#fff">1</text>
<text transform="translate(488.15,337.40) scale(1,1.06)" text-anchor="middle" font-size="10.2" fill="#fff">0.76</text>
<text transform="translate(515.85,337.40) scale(1,1.06)" text-anchor="middle" font-size="10.2" fill="#fff">0.78</text>
<text transform="translate(543.60,337.40) scale(1,1.06)" text-anchor="middle" font-size="10.2" fill="#fff">0.89</text>
<text transform="translate(571.40,337.40) scale(1,1.06)" text-anchor="middle" font-size="10.2" fill="#111">0.66</text>
<text transform="translate(599.15,337.40) scale(1,1.06)" text-anchor="middle" font-size="10.2" fill="#fff">1</text>
<text transform="translate(488.15,364.00) scale(1,1.06)" text-anchor="middle" font-size="10.2" fill="#111">0.29</text>
<text transform="translate(515.85,364.00) scale(1,1.06)" text-anchor="middle" font-size="10.2" fill="#111">0.32</text>
<text transform="translate(543.60,364.00) scale(1,1.06)" text-anchor="middle" font-size="10.2" fill="#111">0.32</text>
<text transform="translate(571.40,364.00) scale(1,1.06)" text-anchor="middle" font-size="10.2" fill="#111">0.018</text>
<text transform="translate(599.15,364.00) scale(1,1.06)" text-anchor="middle" font-size="10.2" fill="#111">0.33</text>
<text transform="translate(626.85,364.00) scale(1,1.06)" text-anchor="middle" font-size="10.2" fill="#fff">1</text>
<text transform="translate(466.00,228.80) scale(1,1.06)" text-anchor="middle" font-size="11" font-style="italic" fill="#222">v</text>
<text transform="translate(488.15,384.00) scale(1,1.06)" text-anchor="middle" font-size="11.5" font-style="italic" fill="#1a1a1a">v</text>
<text transform="translate(466.00,255.40) scale(1,1.06)" text-anchor="middle" font-size="11" font-style="italic" fill="#222">p</text>
<text transform="translate(515.85,384.00) scale(1,1.06)" text-anchor="middle" font-size="11.5" font-style="italic" fill="#1a1a1a">p</text>
<text transform="translate(466.00,282.00) scale(1,1.06)" text-anchor="middle" font-size="11" font-style="italic" fill="#222">F</text>
<text transform="translate(543.60,384.00) scale(1,1.06)" text-anchor="middle" font-size="11.5" font-style="italic" fill="#1a1a1a">F</text>
<text transform="translate(466.00,308.65) scale(1,1.06)" text-anchor="middle" font-size="11" font-style="italic" fill="#222">n</text>
<text transform="translate(571.40,384.00) scale(1,1.06)" text-anchor="middle" font-size="11.5" font-style="italic" fill="#1a1a1a">n</text>
<text transform="translate(466.00,335.30) scale(1,1.06)" text-anchor="middle" font-size="11" font-style="italic" fill="#222">T</text>
<text transform="translate(599.15,384.00) scale(1,1.06)" text-anchor="middle" font-size="11.5" font-style="italic" fill="#1a1a1a">T</text>
<text transform="translate(466.00,361.90) scale(1,1.06)" text-anchor="middle" font-size="11" font-style="italic" fill="#222">w</text>
<text transform="translate(626.85,384.00) scale(1,1.06)" text-anchor="middle" font-size="11.5" font-style="italic" fill="#1a1a1a">w</text>
<text transform="translate(450.00,219.50) scale(1,1.06)" font-size="12" xml:space="preserve">( f )</text>
<defs><linearGradient id="cb" x1="0" y1="0" x2="0" y2="1"><stop offset="0" stop-color="rgb(255,0,0)"/><stop offset="0.5" stop-color="rgb(255,255,255)"/><stop offset="1" stop-color="rgb(0,0,140)"/></linearGradient></defs>
<rect x="646.5" y="212.0" width="11.70" height="160.00" fill="url(#cb)" stroke="#444" stroke-width="1"/>
<line x1="658.2" y1="212.00" x2="661.2" y2="212.00" stroke="#444" stroke-width="1"/>
<text transform="translate(664.00,215.80) scale(1,1.06)" font-size="11.5">1</text>
<line x1="658.2" y1="228.00" x2="661.2" y2="228.00" stroke="#444" stroke-width="1"/>
<text transform="translate(664.00,231.80) scale(1,1.06)" font-size="11.5">0.8</text>
<line x1="658.2" y1="244.00" x2="661.2" y2="244.00" stroke="#444" stroke-width="1"/>
<text transform="translate(664.00,247.80) scale(1,1.06)" font-size="11.5">0.6</text>
<line x1="658.2" y1="260.00" x2="661.2" y2="260.00" stroke="#444" stroke-width="1"/>
<text transform="translate(664.00,263.80) scale(1,1.06)" font-size="11.5">0.4</text>
<line x1="658.2" y1="276.00" x2="661.2" y2="276.00" stroke="#444" stroke-width="1"/>
<text transform="translate(664.00,279.80) scale(1,1.06)" font-size="11.5">0.2</text>
<line x1="658.2" y1="292.00" x2="661.2" y2="292.00" stroke="#444" stroke-width="1"/>
<text transform="translate(664.00,295.80) scale(1,1.06)" font-size="11.5">0</text>
<line x1="658.2" y1="308.00" x2="661.2" y2="308.00" stroke="#444" stroke-width="1"/>
<text transform="translate(664.00,311.80) scale(1,1.06)" font-size="11.5">-0.2</text>
<line x1="658.2" y1="324.00" x2="661.2" y2="324.00" stroke="#444" stroke-width="1"/>
<text transform="translate(664.00,327.80) scale(1,1.06)" font-size="11.5">-0.4</text>
<line x1="658.2" y1="340.00" x2="661.2" y2="340.00" stroke="#444" stroke-width="1"/>
<text transform="translate(664.00,343.80) scale(1,1.06)" font-size="11.5">-0.6</text>
<line x1="658.2" y1="356.00" x2="661.2" y2="356.00" stroke="#444" stroke-width="1"/>
<text transform="translate(664.00,359.80) scale(1,1.06)" font-size="11.5">-0.8</text>
<line x1="658.2" y1="372.00" x2="661.2" y2="372.00" stroke="#444" stroke-width="1"/>
<text transform="translate(664.00,375.80) scale(1,1.06)" font-size="11.5">-1</text>
<line x1="466" y1="0" x2="466" y2="184" stroke="#e8e8e8" stroke-width="1"/>
<line x1="681.8" y1="4" x2="681.8" y2="190" stroke="#eeeeee" stroke-width="1"/>
<line x1="2" y1="389" x2="450" y2="389" stroke="#eeeeee" stroke-width="1"/>
</svg></body></html>
